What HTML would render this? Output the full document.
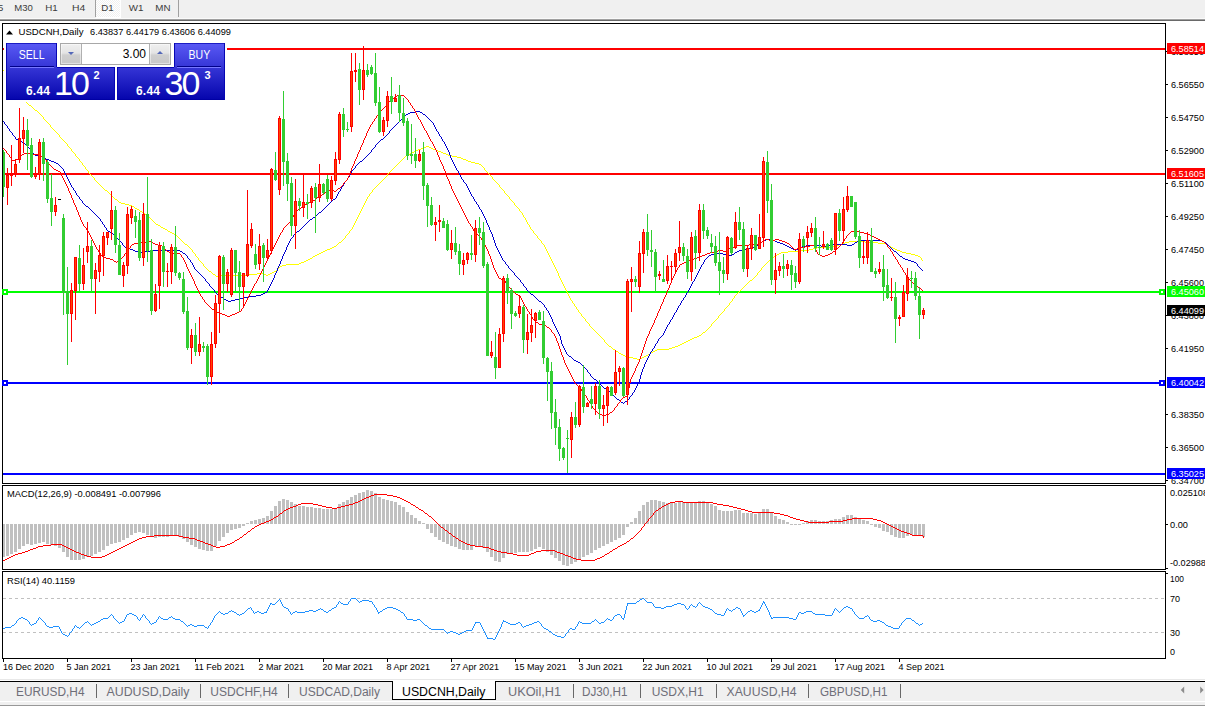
<!DOCTYPE html>
<html><head><meta charset="utf-8"><title>USDCNH,Daily</title>
<style>
html,body{margin:0;padding:0;background:#fff;}
body{width:1205px;height:706px;position:relative;overflow:hidden;font-family:"Liberation Sans",sans-serif;}
.abs{position:absolute;}
#tb{left:0;top:0;width:1205px;height:18px;background:#f0f0f0;}
#tb span{position:absolute;top:2.5px;font-size:9px;line-height:11px;color:#3c3c3c;}
.sep{position:absolute;top:0;width:1px;height:17px;background:#a0a0a0;}
#oc{left:6px;top:43px;width:219px;height:57px;background:#fff;box-shadow:0 0 0 2px #fff;}
.btn{position:absolute;top:0;width:51px;height:24px;background:linear-gradient(#5a5af5,#0404ac) 0 0/100% 57px;box-shadow:inset 1px 0 #0606b4,inset -1px 0 #0606b4,inset 0 1px #1c1cc4;color:#fff;font-size:12px;line-height:25px;text-align:center;}
.btn span{display:inline-block;transform:scaleX(.88);}
.pr{position:absolute;top:24px;height:33px;background:linear-gradient(#5a5af5,#0404ac) 0 -24px/100% 57px;box-shadow:inset 1px 0 #0606b4,inset -1px 0 #0606b4,inset 0 -1px #0000a4;color:#fff;}
.pr b{position:absolute;font-size:12px;line-height:12px;letter-spacing:.2px;}
.pr i{position:absolute;font-style:normal;font-size:34px;line-height:34px;letter-spacing:-2px;}
.pr u{position:absolute;text-decoration:none;font-weight:bold;font-size:11px;line-height:11px;}
.ul{position:absolute;top:23px;height:1px;background:#000088;box-shadow:0 1px 0 #7878ff;}
.tp{position:absolute;top:24px;height:1px;background:#0606b4;}
#sp{position:absolute;left:54px;top:0px;width:109px;height:20px;border:1px solid #a8a8a8;background:#fff;}
.sb{position:absolute;top:0;width:20px;height:20px;background:linear-gradient(#f0f0f0,#e4e4e4 45%,#cfcfcf 55%,#c8c8c8);box-shadow:inset 0 0 0 1px rgba(255,255,255,.45);}
.sb.dn:after{content:"";position:absolute;left:7px;top:8px;border:3px solid transparent;border-top:3px solid #5468b8;border-bottom:0;}
.sb.up:after{content:"";position:absolute;left:7px;top:7px;border:3px solid transparent;border-bottom:3px solid #5468b8;border-top:0;}
#tabs{left:0;top:682px;width:1205px;height:19px;background:#f0f0f0;}
#tabs span{position:absolute;top:3px;font-size:11.6px;line-height:15px;color:#6e6e78;white-space:nowrap;}
#tabs em{position:absolute;top:2px;width:1px;height:14px;background:#686868;}
</style></head><body>
<div id="tb" class="abs">
<div class="sep" style="left:95px"></div><div class="abs" style="left:96px;top:0;width:24px;height:17px;background:repeating-conic-gradient(#fff 0 25%,#f0f0f0 0 50%) 0 0/2px 2px;border-right:1px solid #fff;border-bottom:1px solid #fff"></div>
<div class="sep" style="left:178px"></div>
</div>
<div class="abs" style="left:0;top:18px;width:1205px;height:1px;background:#fafafa"></div>
<div class="abs" style="left:0;top:19px;width:1205px;height:1px;background:#a0a0a0"></div>
<div class="abs" style="left:0;top:20px;width:1205px;height:1px;background:#696969"></div>
<svg width="1205" height="706" viewBox="0 0 1205 706" style="position:absolute;left:0;top:0" shape-rendering="crispEdges" font-family="Liberation Sans, sans-serif" font-size="9.6px"><defs><clipPath id="cm"><rect x="3" y="24" width="1162" height="459"/></clipPath></defs><g clip-path="url(#cm)"><rect x="3" y="48" width="1162" height="2" fill="#ff0000"/><rect x="3" y="173" width="1162" height="2" fill="#ff0000"/><rect x="3" y="291" width="1162" height="2" fill="#00ff00"/><rect x="3" y="382" width="1162" height="2" fill="#0000ff"/><rect x="3" y="473" width="1162" height="2" fill="#0000ff"/><path d="M3 70h1v1h-1zM4 71h1v1h-1zM4 72h1v1h-1zM5 73h1v1h-1zM6 74h1v1h-1zM7 75h1v1h-1zM7 76h1v1h-1zM8 77h1v1h-1zM9 78h1v1h-1zM9 79h1v1h-1zM10 80h1v1h-1zM11 81h1v1h-1zM11 82h1v1h-1zM12 83h1v1h-1zM13 84h1v1h-1zM14 85h1v1h-1zM14 86h1v1h-1zM15 87h1v1h-1zM16 88h1v1h-1zM17 89h1v1h-1zM17 90h1v1h-1zM18 91h1v1h-1zM19 92h1v1h-1zM19 93h1v1h-1zM20 94h1v1h-1zM21 95h1v1h-1zM22 96h1v1h-1zM22 97h1v1h-1zM23 98h1v1h-1zM24 99h1v1h-1zM25 100h1v1h-1zM25 101h1v1h-1zM26 102h1v1h-1zM27 103h1v1h-1zM28 104h1v1h-1zM29 105h2v1h-2zM31 106h1v1h-1zM32 107h1v1h-1zM33 108h1v1h-1zM34 109h1v1h-1zM35 110h2v1h-2zM37 111h1v1h-1zM38 112h1v1h-1zM39 113h1v1h-1zM40 114h1v1h-1zM41 115h1v1h-1zM42 116h1v1h-1zM43 117h1v1h-1zM43 118h1v1h-1zM44 119h1v1h-1zM45 120h1v1h-1zM46 121h1v1h-1zM47 122h1v1h-1zM48 123h1v1h-1zM49 124h1v1h-1zM50 125h1v1h-1zM50 126h1v1h-1zM51 127h1v1h-1zM52 128h1v1h-1zM53 129h1v1h-1zM54 130h1v1h-1zM55 131h1v1h-1zM56 132h1v1h-1zM57 133h1v1h-1zM58 134h1v1h-1zM59 135h1v1h-1zM59 136h1v1h-1zM60 137h1v1h-1zM61 138h1v1h-1zM62 139h1v1h-1zM63 140h1v1h-1zM64 141h1v1h-1zM65 142h1v1h-1zM66 143h1v1h-1zM67 144h1v1h-1zM67 145h1v1h-1zM68 146h1v1h-1zM426 146h3v1h-3zM69 147h1v1h-1zM423 147h3v1h-3zM429 147h2v1h-2zM70 148h1v1h-1zM421 148h2v1h-2zM431 148h2v1h-2zM71 149h1v1h-1zM418 149h3v1h-3zM433 149h3v1h-3zM71 150h1v1h-1zM416 150h2v1h-2zM436 150h2v1h-2zM72 151h1v1h-1zM414 151h2v1h-2zM438 151h3v1h-3zM73 152h1v1h-1zM412 152h2v1h-2zM441 152h2v1h-2zM74 153h1v1h-1zM410 153h2v1h-2zM443 153h3v1h-3zM75 154h1v1h-1zM408 154h2v1h-2zM446 154h2v1h-2zM75 155h1v1h-1zM406 155h2v1h-2zM448 155h4v1h-4zM76 156h1v1h-1zM405 156h1v1h-1zM452 156h5v1h-5zM77 157h1v1h-1zM404 157h1v1h-1zM457 157h4v1h-4zM78 158h1v1h-1zM403 158h1v1h-1zM461 158h2v1h-2zM79 159h1v1h-1zM402 159h1v1h-1zM463 159h3v1h-3zM79 160h1v1h-1zM401 160h1v1h-1zM466 160h2v1h-2zM80 161h1v1h-1zM400 161h1v1h-1zM468 161h3v1h-3zM81 162h1v1h-1zM399 162h1v1h-1zM471 162h4v1h-4zM82 163h1v1h-1zM398 163h1v1h-1zM475 163h4v1h-4zM82 164h1v1h-1zM397 164h1v1h-1zM479 164h2v1h-2zM83 165h1v1h-1zM396 165h1v1h-1zM481 165h1v1h-1zM84 166h1v1h-1zM395 166h1v1h-1zM482 166h1v1h-1zM85 167h1v1h-1zM394 167h1v1h-1zM483 167h1v1h-1zM85 168h1v1h-1zM393 168h1v1h-1zM484 168h1v1h-1zM86 169h1v1h-1zM392 169h1v1h-1zM484 169h1v1h-1zM87 170h1v1h-1zM391 170h1v1h-1zM485 170h1v1h-1zM88 171h1v1h-1zM390 171h1v1h-1zM486 171h1v1h-1zM88 172h1v1h-1zM389 172h1v1h-1zM487 172h1v1h-1zM89 173h1v1h-1zM388 173h1v1h-1zM488 173h1v1h-1zM90 174h1v1h-1zM387 174h1v1h-1zM489 174h1v1h-1zM91 175h1v1h-1zM387 175h1v1h-1zM490 175h1v1h-1zM92 176h1v1h-1zM386 176h1v1h-1zM491 176h1v1h-1zM93 177h1v1h-1zM385 177h1v1h-1zM492 177h1v1h-1zM94 178h1v1h-1zM384 178h1v1h-1zM492 178h1v1h-1zM94 179h1v1h-1zM383 179h1v1h-1zM493 179h1v1h-1zM95 180h1v1h-1zM382 180h1v1h-1zM494 180h1v1h-1zM96 181h1v1h-1zM381 181h1v1h-1zM495 181h1v1h-1zM97 182h1v1h-1zM380 182h1v1h-1zM496 182h1v1h-1zM98 183h1v1h-1zM379 183h1v1h-1zM497 183h1v1h-1zM99 184h1v1h-1zM378 184h1v1h-1zM498 184h1v1h-1zM100 185h1v1h-1zM377 185h1v1h-1zM499 185h1v1h-1zM101 186h1v1h-1zM376 186h1v1h-1zM499 186h1v1h-1zM102 187h1v1h-1zM375 187h1v1h-1zM500 187h1v1h-1zM103 188h1v1h-1zM374 188h1v1h-1zM501 188h1v1h-1zM104 189h1v1h-1zM373 189h1v1h-1zM502 189h1v1h-1zM105 190h2v1h-2zM372 190h1v1h-1zM503 190h1v1h-1zM107 191h1v1h-1zM372 191h1v1h-1zM504 191h1v1h-1zM108 192h1v1h-1zM371 192h1v1h-1zM504 192h1v1h-1zM109 193h1v1h-1zM370 193h1v1h-1zM505 193h1v1h-1zM110 194h1v1h-1zM369 194h1v1h-1zM506 194h1v1h-1zM111 195h1v1h-1zM369 195h1v1h-1zM507 195h1v1h-1zM112 196h1v1h-1zM368 196h1v1h-1zM508 196h1v1h-1zM113 197h1v1h-1zM367 197h1v1h-1zM509 197h1v1h-1zM114 198h1v1h-1zM367 198h1v1h-1zM509 198h1v1h-1zM115 199h2v1h-2zM366 199h1v1h-1zM510 199h1v1h-1zM117 200h1v1h-1zM366 200h1v1h-1zM511 200h1v1h-1zM118 201h1v1h-1zM365 201h1v1h-1zM512 201h1v1h-1zM119 202h2v1h-2zM365 202h1v1h-1zM513 202h1v1h-1zM121 203h4v1h-4zM364 203h1v1h-1zM514 203h1v1h-1zM125 204h4v1h-4zM364 204h1v1h-1zM514 204h1v1h-1zM129 205h3v1h-3zM363 205h1v1h-1zM515 205h1v1h-1zM132 206h2v1h-2zM363 206h1v1h-1zM516 206h1v1h-1zM134 207h1v1h-1zM362 207h1v1h-1zM517 207h1v1h-1zM135 208h2v1h-2zM362 208h1v1h-1zM518 208h1v1h-1zM137 209h2v1h-2zM361 209h1v1h-1zM519 209h1v1h-1zM139 210h1v1h-1zM361 210h1v1h-1zM519 210h1v1h-1zM140 211h2v1h-2zM360 211h1v1h-1zM520 211h1v1h-1zM142 212h1v1h-1zM360 212h1v1h-1zM521 212h1v1h-1zM143 213h2v1h-2zM359 213h1v1h-1zM522 213h1v1h-1zM145 214h2v1h-2zM359 214h1v1h-1zM522 214h1v1h-1zM147 215h1v1h-1zM358 215h1v1h-1zM523 215h1v1h-1zM148 216h1v1h-1zM358 216h1v1h-1zM523 216h1v1h-1zM149 217h1v1h-1zM357 217h1v1h-1zM524 217h1v1h-1zM150 218h1v1h-1zM357 218h1v1h-1zM525 218h1v1h-1zM151 219h1v1h-1zM356 219h1v1h-1zM525 219h1v1h-1zM152 220h1v1h-1zM356 220h1v1h-1zM526 220h1v1h-1zM153 221h1v1h-1zM355 221h1v1h-1zM526 221h1v1h-1zM154 222h1v1h-1zM355 222h1v1h-1zM527 222h1v1h-1zM155 223h1v1h-1zM354 223h1v1h-1zM527 223h1v1h-1zM156 224h2v1h-2zM354 224h1v1h-1zM528 224h1v1h-1zM158 225h2v1h-2zM353 225h1v1h-1zM529 225h1v1h-1zM160 226h1v1h-1zM353 226h1v1h-1zM529 226h1v1h-1zM161 227h2v1h-2zM352 227h1v1h-1zM530 227h1v1h-1zM163 228h2v1h-2zM352 228h1v1h-1zM530 228h1v1h-1zM165 229h2v1h-2zM351 229h1v1h-1zM531 229h1v1h-1zM167 230h1v1h-1zM350 230h1v1h-1zM532 230h1v1h-1zM168 231h2v1h-2zM349 231h1v1h-1zM533 231h1v1h-1zM170 232h2v1h-2zM349 232h1v1h-1zM533 232h1v1h-1zM172 233h2v1h-2zM348 233h1v1h-1zM534 233h1v1h-1zM174 234h2v1h-2zM347 234h1v1h-1zM535 234h1v1h-1zM176 235h1v1h-1zM346 235h1v1h-1zM536 235h1v1h-1zM177 236h1v1h-1zM345 236h1v1h-1zM537 236h1v1h-1zM178 237h1v1h-1zM345 237h1v1h-1zM537 237h1v1h-1zM179 238h1v1h-1zM344 238h1v1h-1zM538 238h1v1h-1zM180 239h1v1h-1zM343 239h1v1h-1zM539 239h1v1h-1zM181 240h1v1h-1zM342 240h1v1h-1zM540 240h1v1h-1zM182 241h1v1h-1zM341 241h1v1h-1zM541 241h1v1h-1zM849 241h16v1h-16zM183 242h1v1h-1zM339 242h2v1h-2zM541 242h1v1h-1zM845 242h4v1h-4zM865 242h13v1h-13zM184 243h1v1h-1zM338 243h1v1h-1zM542 243h1v1h-1zM842 243h3v1h-3zM878 243h8v1h-8zM185 244h2v1h-2zM337 244h1v1h-1zM543 244h1v1h-1zM839 244h3v1h-3zM886 244h2v1h-2zM187 245h1v1h-1zM336 245h1v1h-1zM544 245h1v1h-1zM836 245h3v1h-3zM888 245h1v1h-1zM188 246h1v1h-1zM334 246h2v1h-2zM544 246h1v1h-1zM833 246h3v1h-3zM889 246h2v1h-2zM189 247h1v1h-1zM332 247h2v1h-2zM545 247h1v1h-1zM817 247h16v1h-16zM891 247h2v1h-2zM190 248h1v1h-1zM330 248h2v1h-2zM545 248h1v1h-1zM813 248h4v1h-4zM893 248h2v1h-2zM191 249h1v1h-1zM327 249h3v1h-3zM546 249h1v1h-1zM809 249h4v1h-4zM895 249h2v1h-2zM192 250h1v1h-1zM325 250h2v1h-2zM546 250h1v1h-1zM801 250h8v1h-8zM897 250h3v1h-3zM192 251h1v1h-1zM323 251h2v1h-2zM547 251h1v1h-1zM788 251h13v1h-13zM900 251h2v1h-2zM193 252h1v1h-1zM321 252h2v1h-2zM547 252h1v1h-1zM781 252h7v1h-7zM902 252h4v1h-4zM194 253h1v1h-1zM319 253h2v1h-2zM548 253h1v1h-1zM779 253h2v1h-2zM906 253h5v1h-5zM195 254h1v1h-1zM317 254h2v1h-2zM548 254h1v1h-1zM777 254h2v1h-2zM911 254h4v1h-4zM195 255h1v1h-1zM315 255h2v1h-2zM549 255h1v1h-1zM776 255h1v1h-1zM915 255h3v1h-3zM196 256h1v1h-1zM313 256h2v1h-2zM549 256h1v1h-1zM774 256h2v1h-2zM918 256h2v1h-2zM197 257h1v1h-1zM312 257h1v1h-1zM550 257h1v1h-1zM772 257h2v1h-2zM920 257h1v1h-1zM198 258h1v1h-1zM310 258h2v1h-2zM550 258h1v1h-1zM771 258h1v1h-1zM921 258h1v1h-1zM198 259h1v1h-1zM308 259h2v1h-2zM551 259h1v1h-1zM770 259h1v1h-1zM921 259h1v1h-1zM199 260h1v1h-1zM306 260h2v1h-2zM551 260h1v1h-1zM769 260h1v1h-1zM922 260h1v1h-1zM200 261h1v1h-1zM304 261h2v1h-2zM552 261h1v1h-1zM768 261h1v1h-1zM201 262h1v1h-1zM301 262h3v1h-3zM552 262h1v1h-1zM767 262h1v1h-1zM202 263h1v1h-1zM299 263h2v1h-2zM553 263h1v1h-1zM766 263h1v1h-1zM203 264h1v1h-1zM286 264h13v1h-13zM553 264h1v1h-1zM765 264h1v1h-1zM203 265h1v1h-1zM282 265h4v1h-4zM554 265h1v1h-1zM764 265h1v1h-1zM204 266h1v1h-1zM280 266h2v1h-2zM554 266h1v1h-1zM763 266h1v1h-1zM205 267h1v1h-1zM279 267h1v1h-1zM555 267h1v1h-1zM762 267h1v1h-1zM206 268h1v1h-1zM278 268h1v1h-1zM555 268h1v1h-1zM761 268h1v1h-1zM207 269h1v1h-1zM277 269h1v1h-1zM556 269h1v1h-1zM761 269h1v1h-1zM208 270h1v1h-1zM276 270h1v1h-1zM556 270h1v1h-1zM760 270h1v1h-1zM209 271h2v1h-2zM274 271h2v1h-2zM557 271h1v1h-1zM759 271h1v1h-1zM211 272h1v1h-1zM272 272h2v1h-2zM557 272h1v1h-1zM758 272h1v1h-1zM212 273h1v1h-1zM257 273h6v1h-6zM270 273h2v1h-2zM558 273h1v1h-1zM757 273h1v1h-1zM213 274h2v1h-2zM246 274h11v1h-11zM263 274h3v1h-3zM268 274h2v1h-2zM558 274h1v1h-1zM757 274h1v1h-1zM215 275h1v1h-1zM221 275h25v1h-25zM266 275h2v1h-2zM558 275h1v1h-1zM756 275h1v1h-1zM216 276h5v1h-5zM559 276h1v1h-1zM755 276h1v1h-1zM559 277h1v1h-1zM754 277h1v1h-1zM560 278h1v1h-1zM753 278h1v1h-1zM560 279h1v1h-1zM752 279h1v1h-1zM561 280h1v1h-1zM750 280h2v1h-2zM561 281h1v1h-1zM749 281h1v1h-1zM562 282h1v1h-1zM748 282h1v1h-1zM562 283h1v1h-1zM747 283h1v1h-1zM563 284h1v1h-1zM746 284h1v1h-1zM563 285h1v1h-1zM745 285h1v1h-1zM564 286h1v1h-1zM744 286h1v1h-1zM564 287h1v1h-1zM743 287h1v1h-1zM565 288h1v1h-1zM742 288h1v1h-1zM565 289h1v1h-1zM741 289h1v1h-1zM566 290h1v1h-1zM740 290h1v1h-1zM566 291h1v1h-1zM739 291h1v1h-1zM567 292h1v1h-1zM738 292h1v1h-1zM567 293h1v1h-1zM737 293h1v1h-1zM568 294h1v1h-1zM736 294h1v1h-1zM568 295h1v1h-1zM735 295h1v1h-1zM569 296h1v1h-1zM734 296h1v1h-1zM569 297h1v1h-1zM734 297h1v1h-1zM570 298h1v1h-1zM733 298h1v1h-1zM570 299h1v1h-1zM732 299h1v1h-1zM571 300h1v1h-1zM732 300h1v1h-1zM572 301h1v1h-1zM731 301h1v1h-1zM572 302h1v1h-1zM730 302h1v1h-1zM573 303h1v1h-1zM729 303h1v1h-1zM574 304h1v1h-1zM729 304h1v1h-1zM574 305h1v1h-1zM728 305h1v1h-1zM575 306h1v1h-1zM727 306h1v1h-1zM576 307h1v1h-1zM726 307h1v1h-1zM576 308h1v1h-1zM725 308h1v1h-1zM577 309h1v1h-1zM724 309h1v1h-1zM578 310h1v1h-1zM724 310h1v1h-1zM578 311h1v1h-1zM723 311h1v1h-1zM579 312h1v1h-1zM722 312h1v1h-1zM580 313h1v1h-1zM721 313h1v1h-1zM581 314h1v1h-1zM720 314h1v1h-1zM581 315h1v1h-1zM719 315h1v1h-1zM582 316h1v1h-1zM718 316h1v1h-1zM583 317h1v1h-1zM718 317h1v1h-1zM584 318h1v1h-1zM717 318h1v1h-1zM585 319h1v1h-1zM716 319h1v1h-1zM585 320h1v1h-1zM715 320h1v1h-1zM586 321h1v1h-1zM714 321h1v1h-1zM587 322h1v1h-1zM713 322h1v1h-1zM588 323h1v1h-1zM712 323h1v1h-1zM589 324h1v1h-1zM711 324h1v1h-1zM589 325h1v1h-1zM711 325h1v1h-1zM590 326h1v1h-1zM710 326h1v1h-1zM591 327h1v1h-1zM709 327h1v1h-1zM592 328h1v1h-1zM708 328h1v1h-1zM593 329h1v1h-1zM707 329h1v1h-1zM594 330h1v1h-1zM706 330h1v1h-1zM595 331h1v1h-1zM705 331h1v1h-1zM596 332h1v1h-1zM703 332h2v1h-2zM597 333h1v1h-1zM702 333h1v1h-1zM598 334h1v1h-1zM701 334h1v1h-1zM599 335h1v1h-1zM699 335h2v1h-2zM600 336h1v1h-1zM697 336h2v1h-2zM601 337h1v1h-1zM694 337h3v1h-3zM602 338h1v1h-1zM692 338h2v1h-2zM603 339h1v1h-1zM690 339h2v1h-2zM604 340h1v1h-1zM688 340h2v1h-2zM604 341h1v1h-1zM686 341h2v1h-2zM605 342h1v1h-1zM684 342h2v1h-2zM606 343h1v1h-1zM682 343h2v1h-2zM607 344h1v1h-1zM680 344h2v1h-2zM608 345h1v1h-1zM678 345h2v1h-2zM609 346h2v1h-2zM675 346h3v1h-3zM611 347h1v1h-1zM672 347h3v1h-3zM612 348h1v1h-1zM669 348h3v1h-3zM613 349h2v1h-2zM657 349h12v1h-12zM615 350h1v1h-1zM655 350h2v1h-2zM616 351h2v1h-2zM653 351h2v1h-2zM618 352h1v1h-1zM651 352h2v1h-2zM619 353h2v1h-2zM650 353h1v1h-1zM621 354h2v1h-2zM648 354h2v1h-2zM623 355h2v1h-2zM646 355h2v1h-2zM625 356h4v1h-4zM644 356h2v1h-2zM629 357h4v1h-4zM642 357h2v1h-2zM633 358h4v1h-4zM640 358h2v1h-2zM637 359h3v1h-3z" fill="#ffff00"/><path d="M415 111h5v1h-5zM410 112h5v1h-5zM420 112h2v1h-2zM408 113h2v1h-2zM422 113h1v1h-1zM406 114h2v1h-2zM423 114h2v1h-2zM405 115h1v1h-1zM425 115h1v1h-1zM404 116h1v1h-1zM426 116h1v1h-1zM403 117h1v1h-1zM427 117h1v1h-1zM402 118h1v1h-1zM428 118h1v1h-1zM401 119h1v1h-1zM429 119h1v1h-1zM400 120h1v1h-1zM430 120h1v1h-1zM3 121h1v1h-1zM399 121h1v1h-1zM431 121h1v1h-1zM4 122h1v1h-1zM398 122h1v1h-1zM432 122h1v1h-1zM4 123h1v1h-1zM397 123h1v1h-1zM433 123h1v1h-1zM5 124h1v1h-1zM396 124h1v1h-1zM433 124h1v1h-1zM6 125h1v1h-1zM395 125h1v1h-1zM434 125h1v1h-1zM7 126h1v1h-1zM394 126h1v1h-1zM434 126h1v1h-1zM7 127h1v1h-1zM393 127h1v1h-1zM435 127h1v1h-1zM8 128h1v1h-1zM392 128h1v1h-1zM435 128h1v1h-1zM9 129h1v1h-1zM391 129h1v1h-1zM436 129h1v1h-1zM9 130h1v1h-1zM390 130h1v1h-1zM436 130h1v1h-1zM10 131h1v1h-1zM389 131h1v1h-1zM437 131h1v1h-1zM11 132h1v1h-1zM389 132h1v1h-1zM438 132h1v1h-1zM12 133h1v1h-1zM388 133h1v1h-1zM438 133h1v1h-1zM12 134h1v1h-1zM387 134h1v1h-1zM439 134h1v1h-1zM13 135h1v1h-1zM386 135h1v1h-1zM439 135h1v1h-1zM14 136h1v1h-1zM385 136h1v1h-1zM440 136h1v1h-1zM15 137h1v1h-1zM384 137h1v1h-1zM441 137h1v1h-1zM15 138h1v1h-1zM383 138h1v1h-1zM441 138h1v1h-1zM16 139h2v1h-2zM381 139h2v1h-2zM442 139h1v1h-1zM18 140h2v1h-2zM380 140h1v1h-1zM442 140h1v1h-1zM20 141h2v1h-2zM379 141h1v1h-1zM443 141h1v1h-1zM22 142h2v1h-2zM378 142h1v1h-1zM444 142h1v1h-1zM24 143h1v1h-1zM377 143h1v1h-1zM444 143h1v1h-1zM25 144h1v1h-1zM376 144h1v1h-1zM445 144h1v1h-1zM26 145h1v1h-1zM375 145h1v1h-1zM445 145h1v1h-1zM27 146h1v1h-1zM375 146h1v1h-1zM446 146h1v1h-1zM28 147h1v1h-1zM374 147h1v1h-1zM446 147h1v1h-1zM29 148h1v1h-1zM373 148h1v1h-1zM447 148h1v1h-1zM30 149h1v1h-1zM372 149h1v1h-1zM447 149h1v1h-1zM31 150h1v1h-1zM371 150h1v1h-1zM448 150h1v1h-1zM32 151h1v1h-1zM371 151h1v1h-1zM448 151h1v1h-1zM32 152h1v1h-1zM370 152h1v1h-1zM449 152h1v1h-1zM33 153h1v1h-1zM369 153h1v1h-1zM449 153h1v1h-1zM34 154h1v1h-1zM368 154h1v1h-1zM449 154h1v1h-1zM35 155h3v1h-3zM367 155h1v1h-1zM450 155h1v1h-1zM38 156h4v1h-4zM366 156h1v1h-1zM450 156h1v1h-1zM42 157h2v1h-2zM365 157h1v1h-1zM450 157h1v1h-1zM44 158h2v1h-2zM364 158h1v1h-1zM451 158h1v1h-1zM46 159h3v1h-3zM363 159h1v1h-1zM451 159h1v1h-1zM49 160h2v1h-2zM362 160h1v1h-1zM452 160h1v1h-1zM51 161h3v1h-3zM360 161h2v1h-2zM452 161h1v1h-1zM54 162h2v1h-2zM359 162h1v1h-1zM453 162h1v1h-1zM56 163h2v1h-2zM358 163h1v1h-1zM453 163h1v1h-1zM58 164h1v1h-1zM357 164h1v1h-1zM454 164h1v1h-1zM59 165h1v1h-1zM356 165h1v1h-1zM454 165h1v1h-1zM60 166h1v1h-1zM355 166h1v1h-1zM455 166h1v1h-1zM61 167h1v1h-1zM355 167h1v1h-1zM455 167h1v1h-1zM62 168h1v1h-1zM354 168h1v1h-1zM456 168h1v1h-1zM63 169h1v1h-1zM353 169h1v1h-1zM456 169h1v1h-1zM63 170h1v1h-1zM352 170h1v1h-1zM457 170h1v1h-1zM64 171h1v1h-1zM351 171h1v1h-1zM458 171h1v1h-1zM64 172h1v1h-1zM351 172h1v1h-1zM458 172h1v1h-1zM65 173h1v1h-1zM350 173h1v1h-1zM459 173h1v1h-1zM65 174h1v1h-1zM350 174h1v1h-1zM459 174h1v1h-1zM66 175h1v1h-1zM349 175h1v1h-1zM460 175h1v1h-1zM66 176h1v1h-1zM349 176h1v1h-1zM460 176h1v1h-1zM67 177h1v1h-1zM348 177h1v1h-1zM461 177h1v1h-1zM67 178h1v1h-1zM347 178h1v1h-1zM461 178h1v1h-1zM68 179h1v1h-1zM347 179h1v1h-1zM462 179h1v1h-1zM68 180h1v1h-1zM346 180h1v1h-1zM463 180h1v1h-1zM69 181h1v1h-1zM345 181h1v1h-1zM463 181h1v1h-1zM69 182h1v1h-1zM344 182h1v1h-1zM464 182h1v1h-1zM70 183h1v1h-1zM344 183h1v1h-1zM465 183h1v1h-1zM70 184h1v1h-1zM343 184h1v1h-1zM466 184h1v1h-1zM71 185h1v1h-1zM343 185h1v1h-1zM466 185h1v1h-1zM71 186h1v1h-1zM342 186h1v1h-1zM467 186h1v1h-1zM72 187h1v1h-1zM341 187h1v1h-1zM467 187h1v1h-1zM73 188h1v1h-1zM341 188h1v1h-1zM468 188h1v1h-1zM73 189h1v1h-1zM340 189h1v1h-1zM468 189h1v1h-1zM74 190h1v1h-1zM340 190h1v1h-1zM469 190h1v1h-1zM75 191h1v1h-1zM339 191h1v1h-1zM469 191h1v1h-1zM75 192h1v1h-1zM338 192h1v1h-1zM470 192h1v1h-1zM76 193h1v1h-1zM338 193h1v1h-1zM470 193h1v1h-1zM76 194h1v1h-1zM337 194h1v1h-1zM471 194h1v1h-1zM77 195h1v1h-1zM337 195h1v1h-1zM471 195h1v1h-1zM78 196h1v1h-1zM336 196h1v1h-1zM472 196h1v1h-1zM79 197h1v1h-1zM336 197h1v1h-1zM473 197h1v1h-1zM79 198h1v1h-1zM335 198h1v1h-1zM473 198h1v1h-1zM80 199h1v1h-1zM333 199h2v1h-2zM474 199h1v1h-1zM81 200h1v1h-1zM332 200h1v1h-1zM474 200h1v1h-1zM82 201h1v1h-1zM331 201h1v1h-1zM475 201h1v1h-1zM82 202h1v1h-1zM330 202h1v1h-1zM476 202h1v1h-1zM83 203h1v1h-1zM329 203h1v1h-1zM476 203h1v1h-1zM84 204h1v1h-1zM328 204h1v1h-1zM477 204h1v1h-1zM85 205h1v1h-1zM327 205h1v1h-1zM478 205h1v1h-1zM86 206h2v1h-2zM326 206h1v1h-1zM478 206h1v1h-1zM88 207h1v1h-1zM325 207h1v1h-1zM479 207h1v1h-1zM89 208h1v1h-1zM324 208h1v1h-1zM479 208h1v1h-1zM90 209h1v1h-1zM323 209h1v1h-1zM480 209h1v1h-1zM91 210h1v1h-1zM322 210h1v1h-1zM481 210h1v1h-1zM92 211h1v1h-1zM321 211h1v1h-1zM481 211h1v1h-1zM93 212h1v1h-1zM319 212h2v1h-2zM482 212h1v1h-1zM94 213h1v1h-1zM318 213h1v1h-1zM482 213h1v1h-1zM95 214h1v1h-1zM317 214h1v1h-1zM483 214h1v1h-1zM96 215h1v1h-1zM316 215h1v1h-1zM483 215h1v1h-1zM97 216h1v1h-1zM315 216h1v1h-1zM484 216h1v1h-1zM98 217h1v1h-1zM313 217h2v1h-2zM484 217h1v1h-1zM99 218h1v1h-1zM312 218h1v1h-1zM485 218h1v1h-1zM100 219h1v1h-1zM310 219h2v1h-2zM485 219h1v1h-1zM100 220h1v1h-1zM309 220h1v1h-1zM486 220h1v1h-1zM101 221h1v1h-1zM308 221h1v1h-1zM486 221h1v1h-1zM102 222h1v1h-1zM307 222h1v1h-1zM486 222h1v1h-1zM102 223h1v1h-1zM306 223h1v1h-1zM487 223h1v1h-1zM103 224h1v1h-1zM305 224h1v1h-1zM487 224h1v1h-1zM104 225h1v1h-1zM304 225h1v1h-1zM488 225h1v1h-1zM104 226h1v1h-1zM303 226h1v1h-1zM488 226h1v1h-1zM105 227h1v1h-1zM302 227h1v1h-1zM489 227h1v1h-1zM106 228h1v1h-1zM301 228h1v1h-1zM489 228h1v1h-1zM106 229h1v1h-1zM300 229h1v1h-1zM489 229h1v1h-1zM107 230h1v1h-1zM299 230h1v1h-1zM490 230h1v1h-1zM108 231h2v1h-2zM297 231h2v1h-2zM490 231h1v1h-1zM110 232h1v1h-1zM296 232h1v1h-1zM491 232h1v1h-1zM111 233h2v1h-2zM295 233h1v1h-1zM491 233h1v1h-1zM113 234h1v1h-1zM294 234h1v1h-1zM492 234h1v1h-1zM114 235h1v1h-1zM293 235h1v1h-1zM492 235h1v1h-1zM115 236h1v1h-1zM293 236h1v1h-1zM492 236h1v1h-1zM116 237h1v1h-1zM292 237h1v1h-1zM493 237h1v1h-1zM117 238h1v1h-1zM291 238h1v1h-1zM493 238h1v1h-1zM118 239h1v1h-1zM290 239h1v1h-1zM493 239h1v1h-1zM766 239h4v1h-4zM119 240h1v1h-1zM290 240h1v1h-1zM494 240h1v1h-1zM764 240h2v1h-2zM770 240h5v1h-5zM861 240h21v1h-21zM120 241h1v1h-1zM289 241h1v1h-1zM494 241h1v1h-1zM762 241h2v1h-2zM775 241h2v1h-2zM857 241h4v1h-4zM882 241h2v1h-2zM121 242h1v1h-1zM289 242h1v1h-1zM494 242h1v1h-1zM760 242h2v1h-2zM777 242h3v1h-3zM855 242h2v1h-2zM884 242h2v1h-2zM122 243h1v1h-1zM288 243h1v1h-1zM495 243h1v1h-1zM759 243h1v1h-1zM780 243h3v1h-3zM854 243h1v1h-1zM886 243h1v1h-1zM122 244h1v1h-1zM288 244h1v1h-1zM495 244h1v1h-1zM758 244h1v1h-1zM783 244h2v1h-2zM833 244h14v1h-14zM852 244h2v1h-2zM887 244h1v1h-1zM123 245h1v1h-1zM287 245h1v1h-1zM495 245h1v1h-1zM756 245h2v1h-2zM785 245h2v1h-2zM806 245h15v1h-15zM828 245h5v1h-5zM847 245h5v1h-5zM888 245h1v1h-1zM124 246h1v1h-1zM287 246h1v1h-1zM496 246h1v1h-1zM754 246h2v1h-2zM787 246h2v1h-2zM802 246h4v1h-4zM821 246h7v1h-7zM889 246h1v1h-1zM125 247h2v1h-2zM286 247h1v1h-1zM496 247h1v1h-1zM750 247h4v1h-4zM789 247h2v1h-2zM800 247h2v1h-2zM890 247h1v1h-1zM127 248h3v1h-3zM286 248h1v1h-1zM497 248h1v1h-1zM747 248h3v1h-3zM791 248h2v1h-2zM798 248h2v1h-2zM891 248h1v1h-1zM130 249h3v1h-3zM286 249h1v1h-1zM497 249h1v1h-1zM743 249h4v1h-4zM793 249h2v1h-2zM796 249h2v1h-2zM892 249h1v1h-1zM133 250h2v1h-2zM151 250h29v1h-29zM285 250h1v1h-1zM498 250h1v1h-1zM739 250h4v1h-4zM795 250h1v1h-1zM893 250h1v1h-1zM135 251h3v1h-3zM143 251h8v1h-8zM180 251h2v1h-2zM285 251h1v1h-1zM498 251h1v1h-1zM737 251h2v1h-2zM894 251h2v1h-2zM138 252h5v1h-5zM182 252h1v1h-1zM284 252h1v1h-1zM499 252h1v1h-1zM735 252h2v1h-2zM896 252h1v1h-1zM183 253h2v1h-2zM284 253h1v1h-1zM499 253h1v1h-1zM714 253h9v1h-9zM734 253h1v1h-1zM897 253h1v1h-1zM185 254h1v1h-1zM283 254h1v1h-1zM500 254h1v1h-1zM711 254h3v1h-3zM723 254h6v1h-6zM732 254h2v1h-2zM898 254h1v1h-1zM186 255h1v1h-1zM283 255h1v1h-1zM500 255h1v1h-1zM709 255h2v1h-2zM729 255h3v1h-3zM899 255h1v1h-1zM187 256h1v1h-1zM282 256h1v1h-1zM501 256h1v1h-1zM708 256h1v1h-1zM900 256h2v1h-2zM187 257h1v1h-1zM282 257h1v1h-1zM501 257h1v1h-1zM707 257h1v1h-1zM902 257h1v1h-1zM188 258h1v1h-1zM282 258h1v1h-1zM502 258h1v1h-1zM706 258h1v1h-1zM903 258h2v1h-2zM189 259h1v1h-1zM281 259h1v1h-1zM502 259h1v1h-1zM705 259h1v1h-1zM905 259h3v1h-3zM190 260h1v1h-1zM281 260h1v1h-1zM503 260h1v1h-1zM704 260h1v1h-1zM908 260h3v1h-3zM190 261h1v1h-1zM280 261h1v1h-1zM504 261h1v1h-1zM704 261h1v1h-1zM911 261h3v1h-3zM191 262h1v1h-1zM280 262h1v1h-1zM505 262h1v1h-1zM703 262h1v1h-1zM914 262h2v1h-2zM192 263h1v1h-1zM280 263h1v1h-1zM505 263h1v1h-1zM703 263h1v1h-1zM916 263h1v1h-1zM192 264h1v1h-1zM279 264h1v1h-1zM506 264h1v1h-1zM702 264h1v1h-1zM917 264h1v1h-1zM193 265h1v1h-1zM279 265h1v1h-1zM507 265h1v1h-1zM701 265h1v1h-1zM917 265h1v1h-1zM193 266h1v1h-1zM278 266h1v1h-1zM508 266h1v1h-1zM701 266h1v1h-1zM918 266h1v1h-1zM194 267h1v1h-1zM278 267h1v1h-1zM508 267h1v1h-1zM700 267h1v1h-1zM919 267h1v1h-1zM194 268h1v1h-1zM277 268h1v1h-1zM509 268h1v1h-1zM700 268h1v1h-1zM920 268h1v1h-1zM195 269h1v1h-1zM277 269h1v1h-1zM510 269h1v1h-1zM699 269h1v1h-1zM921 269h1v1h-1zM196 270h1v1h-1zM277 270h1v1h-1zM511 270h1v1h-1zM699 270h1v1h-1zM922 270h1v1h-1zM197 271h1v1h-1zM276 271h1v1h-1zM512 271h1v1h-1zM698 271h1v1h-1zM198 272h1v1h-1zM276 272h1v1h-1zM513 272h1v1h-1zM698 272h1v1h-1zM199 273h1v1h-1zM275 273h1v1h-1zM514 273h1v1h-1zM697 273h1v1h-1zM200 274h1v1h-1zM275 274h1v1h-1zM514 274h1v1h-1zM697 274h1v1h-1zM201 275h1v1h-1zM274 275h1v1h-1zM515 275h1v1h-1zM696 275h1v1h-1zM202 276h1v1h-1zM274 276h1v1h-1zM516 276h1v1h-1zM696 276h1v1h-1zM203 277h1v1h-1zM274 277h1v1h-1zM517 277h1v1h-1zM695 277h1v1h-1zM204 278h1v1h-1zM273 278h1v1h-1zM518 278h1v1h-1zM695 278h1v1h-1zM205 279h1v1h-1zM273 279h1v1h-1zM519 279h1v1h-1zM694 279h1v1h-1zM205 280h1v1h-1zM272 280h1v1h-1zM520 280h1v1h-1zM694 280h1v1h-1zM206 281h1v1h-1zM272 281h1v1h-1zM520 281h1v1h-1zM693 281h1v1h-1zM207 282h1v1h-1zM271 282h1v1h-1zM521 282h1v1h-1zM692 282h1v1h-1zM208 283h1v1h-1zM271 283h1v1h-1zM522 283h1v1h-1zM692 283h1v1h-1zM209 284h1v1h-1zM270 284h1v1h-1zM523 284h1v1h-1zM691 284h1v1h-1zM209 285h1v1h-1zM270 285h1v1h-1zM523 285h1v1h-1zM691 285h1v1h-1zM210 286h1v1h-1zM269 286h1v1h-1zM524 286h1v1h-1zM690 286h1v1h-1zM211 287h1v1h-1zM269 287h1v1h-1zM525 287h1v1h-1zM690 287h1v1h-1zM212 288h1v1h-1zM268 288h1v1h-1zM526 288h1v1h-1zM689 288h1v1h-1zM213 289h1v1h-1zM268 289h1v1h-1zM526 289h1v1h-1zM689 289h1v1h-1zM214 290h1v1h-1zM267 290h1v1h-1zM527 290h1v1h-1zM688 290h1v1h-1zM214 291h1v1h-1zM267 291h1v1h-1zM528 291h1v1h-1zM688 291h1v1h-1zM215 292h1v1h-1zM265 292h2v1h-2zM529 292h1v1h-1zM687 292h1v1h-1zM216 293h1v1h-1zM263 293h2v1h-2zM530 293h1v1h-1zM686 293h1v1h-1zM217 294h1v1h-1zM261 294h2v1h-2zM531 294h2v1h-2zM686 294h1v1h-1zM218 295h2v1h-2zM256 295h5v1h-5zM533 295h1v1h-1zM685 295h1v1h-1zM220 296h1v1h-1zM249 296h7v1h-7zM534 296h1v1h-1zM685 296h1v1h-1zM221 297h2v1h-2zM243 297h6v1h-6zM535 297h1v1h-1zM684 297h1v1h-1zM223 298h1v1h-1zM239 298h4v1h-4zM536 298h1v1h-1zM683 298h1v1h-1zM224 299h2v1h-2zM235 299h4v1h-4zM537 299h1v1h-1zM683 299h1v1h-1zM226 300h2v1h-2zM231 300h4v1h-4zM538 300h1v1h-1zM682 300h1v1h-1zM228 301h3v1h-3zM539 301h2v1h-2zM681 301h1v1h-1zM541 302h1v1h-1zM681 302h1v1h-1zM542 303h1v1h-1zM680 303h1v1h-1zM543 304h1v1h-1zM680 304h1v1h-1zM544 305h1v1h-1zM679 305h1v1h-1zM544 306h1v1h-1zM678 306h1v1h-1zM545 307h1v1h-1zM678 307h1v1h-1zM546 308h1v1h-1zM677 308h1v1h-1zM546 309h1v1h-1zM677 309h1v1h-1zM547 310h1v1h-1zM676 310h1v1h-1zM548 311h1v1h-1zM676 311h1v1h-1zM548 312h1v1h-1zM675 312h1v1h-1zM549 313h1v1h-1zM674 313h1v1h-1zM549 314h1v1h-1zM674 314h1v1h-1zM550 315h1v1h-1zM673 315h1v1h-1zM550 316h1v1h-1zM673 316h1v1h-1zM551 317h1v1h-1zM672 317h1v1h-1zM551 318h1v1h-1zM672 318h1v1h-1zM552 319h1v1h-1zM671 319h1v1h-1zM552 320h1v1h-1zM670 320h1v1h-1zM552 321h1v1h-1zM670 321h1v1h-1zM553 322h1v1h-1zM669 322h1v1h-1zM553 323h1v1h-1zM669 323h1v1h-1zM554 324h1v1h-1zM668 324h1v1h-1zM554 325h1v1h-1zM667 325h1v1h-1zM555 326h1v1h-1zM667 326h1v1h-1zM555 327h1v1h-1zM666 327h1v1h-1zM556 328h1v1h-1zM666 328h1v1h-1zM556 329h1v1h-1zM665 329h1v1h-1zM557 330h1v1h-1zM665 330h1v1h-1zM557 331h1v1h-1zM664 331h1v1h-1zM558 332h1v1h-1zM664 332h1v1h-1zM558 333h1v1h-1zM663 333h1v1h-1zM559 334h1v1h-1zM663 334h1v1h-1zM559 335h1v1h-1zM662 335h1v1h-1zM560 336h1v1h-1zM661 336h1v1h-1zM560 337h1v1h-1zM660 337h1v1h-1zM560 338h1v1h-1zM659 338h1v1h-1zM560 339h1v1h-1zM658 339h1v1h-1zM561 340h1v1h-1zM658 340h1v1h-1zM561 341h1v1h-1zM657 341h1v1h-1zM561 342h1v1h-1zM657 342h1v1h-1zM561 343h1v1h-1zM656 343h1v1h-1zM562 344h1v1h-1zM655 344h1v1h-1zM562 345h1v1h-1zM655 345h1v1h-1zM563 346h1v1h-1zM654 346h1v1h-1zM563 347h1v1h-1zM654 347h1v1h-1zM564 348h1v1h-1zM653 348h1v1h-1zM564 349h1v1h-1zM652 349h1v1h-1zM565 350h1v1h-1zM652 350h1v1h-1zM565 351h1v1h-1zM651 351h1v1h-1zM566 352h1v1h-1zM650 352h1v1h-1zM566 353h1v1h-1zM650 353h1v1h-1zM567 354h1v1h-1zM649 354h1v1h-1zM568 355h1v1h-1zM649 355h1v1h-1zM569 356h2v1h-2zM648 356h1v1h-1zM571 357h1v1h-1zM648 357h1v1h-1zM572 358h1v1h-1zM647 358h1v1h-1zM573 359h1v1h-1zM647 359h1v1h-1zM574 360h2v1h-2zM646 360h1v1h-1zM576 361h2v1h-2zM646 361h1v1h-1zM578 362h2v1h-2zM645 362h1v1h-1zM580 363h1v1h-1zM645 363h1v1h-1zM581 364h1v1h-1zM644 364h1v1h-1zM582 365h1v1h-1zM644 365h1v1h-1zM583 366h1v1h-1zM644 366h1v1h-1zM584 367h1v1h-1zM643 367h1v1h-1zM585 368h1v1h-1zM643 368h1v1h-1zM586 369h1v1h-1zM642 369h1v1h-1zM587 370h1v1h-1zM642 370h1v1h-1zM587 371h1v1h-1zM642 371h1v1h-1zM588 372h1v1h-1zM641 372h1v1h-1zM589 373h1v1h-1zM641 373h1v1h-1zM590 374h1v1h-1zM641 374h1v1h-1zM590 375h1v1h-1zM640 375h1v1h-1zM591 376h1v1h-1zM640 376h1v1h-1zM592 377h1v1h-1zM640 377h1v1h-1zM593 378h1v1h-1zM640 378h1v1h-1zM594 379h2v1h-2zM639 379h1v1h-1zM596 380h1v1h-1zM639 380h1v1h-1zM597 381h1v1h-1zM639 381h1v1h-1zM598 382h1v1h-1zM638 382h1v1h-1zM599 383h1v1h-1zM638 383h1v1h-1zM600 384h1v1h-1zM637 384h1v1h-1zM601 385h1v1h-1zM637 385h1v1h-1zM602 386h1v1h-1zM636 386h1v1h-1zM603 387h1v1h-1zM636 387h1v1h-1zM604 388h2v1h-2zM635 388h1v1h-1zM606 389h1v1h-1zM635 389h1v1h-1zM607 390h2v1h-2zM634 390h1v1h-1zM609 391h1v1h-1zM634 391h1v1h-1zM610 392h1v1h-1zM633 392h1v1h-1zM611 393h1v1h-1zM632 393h1v1h-1zM612 394h1v1h-1zM632 394h1v1h-1zM613 395h1v1h-1zM631 395h1v1h-1zM614 396h1v1h-1zM630 396h1v1h-1zM615 397h1v1h-1zM629 397h1v1h-1zM616 398h1v1h-1zM629 398h1v1h-1zM617 399h2v1h-2zM628 399h1v1h-1zM619 400h1v1h-1zM627 400h1v1h-1zM620 401h1v1h-1zM625 401h2v1h-2zM621 402h2v1h-2zM624 402h1v1h-1zM623 403h1v1h-1z" fill="#0000cd"/><path d="M397 95h7v1h-7zM395 96h2v1h-2zM404 96h1v1h-1zM394 97h1v1h-1zM405 97h1v1h-1zM392 98h2v1h-2zM406 98h1v1h-1zM391 99h1v1h-1zM407 99h1v1h-1zM390 100h1v1h-1zM408 100h1v1h-1zM389 101h1v1h-1zM408 101h1v1h-1zM388 102h1v1h-1zM409 102h1v1h-1zM387 103h1v1h-1zM410 103h1v1h-1zM386 104h1v1h-1zM410 104h1v1h-1zM386 105h1v1h-1zM411 105h1v1h-1zM385 106h1v1h-1zM412 106h1v1h-1zM384 107h1v1h-1zM412 107h1v1h-1zM383 108h1v1h-1zM413 108h1v1h-1zM382 109h1v1h-1zM414 109h1v1h-1zM381 110h1v1h-1zM414 110h1v1h-1zM380 111h1v1h-1zM415 111h1v1h-1zM380 112h1v1h-1zM415 112h1v1h-1zM379 113h1v1h-1zM416 113h1v1h-1zM378 114h1v1h-1zM416 114h1v1h-1zM377 115h1v1h-1zM417 115h1v1h-1zM376 116h1v1h-1zM417 116h1v1h-1zM376 117h1v1h-1zM418 117h1v1h-1zM375 118h1v1h-1zM418 118h1v1h-1zM374 119h1v1h-1zM419 119h1v1h-1zM374 120h1v1h-1zM420 120h1v1h-1zM373 121h1v1h-1zM420 121h1v1h-1zM372 122h1v1h-1zM421 122h1v1h-1zM372 123h1v1h-1zM421 123h1v1h-1zM371 124h1v1h-1zM422 124h1v1h-1zM370 125h1v1h-1zM422 125h1v1h-1zM370 126h1v1h-1zM423 126h1v1h-1zM369 127h1v1h-1zM423 127h1v1h-1zM369 128h1v1h-1zM424 128h1v1h-1zM368 129h1v1h-1zM424 129h1v1h-1zM368 130h1v1h-1zM425 130h1v1h-1zM367 131h1v1h-1zM426 131h1v1h-1zM367 132h1v1h-1zM426 132h1v1h-1zM366 133h1v1h-1zM427 133h1v1h-1zM366 134h1v1h-1zM427 134h1v1h-1zM366 135h1v1h-1zM428 135h1v1h-1zM365 136h1v1h-1zM428 136h1v1h-1zM365 137h1v1h-1zM429 137h1v1h-1zM364 138h1v1h-1zM429 138h1v1h-1zM364 139h1v1h-1zM430 139h1v1h-1zM363 140h1v1h-1zM430 140h1v1h-1zM363 141h1v1h-1zM431 141h1v1h-1zM363 142h1v1h-1zM432 142h1v1h-1zM362 143h1v1h-1zM432 143h1v1h-1zM362 144h1v1h-1zM433 144h1v1h-1zM361 145h1v1h-1zM433 145h1v1h-1zM361 146h1v1h-1zM434 146h1v1h-1zM360 147h1v1h-1zM434 147h1v1h-1zM3 148h1v1h-1zM360 148h1v1h-1zM435 148h1v1h-1zM4 149h1v1h-1zM360 149h1v1h-1zM435 149h1v1h-1zM5 150h1v1h-1zM359 150h1v1h-1zM436 150h1v1h-1zM6 151h1v1h-1zM359 151h1v1h-1zM436 151h1v1h-1zM6 152h1v1h-1zM358 152h1v1h-1zM437 152h1v1h-1zM7 153h1v1h-1zM24 153h9v1h-9zM358 153h1v1h-1zM437 153h1v1h-1zM8 154h1v1h-1zM22 154h2v1h-2zM33 154h7v1h-7zM357 154h1v1h-1zM437 154h1v1h-1zM9 155h1v1h-1zM21 155h1v1h-1zM40 155h1v1h-1zM357 155h1v1h-1zM438 155h1v1h-1zM9 156h1v1h-1zM20 156h1v1h-1zM41 156h2v1h-2zM357 156h1v1h-1zM438 156h1v1h-1zM10 157h1v1h-1zM19 157h1v1h-1zM43 157h1v1h-1zM356 157h1v1h-1zM439 157h1v1h-1zM11 158h1v1h-1zM18 158h1v1h-1zM44 158h1v1h-1zM356 158h1v1h-1zM439 158h1v1h-1zM11 159h1v1h-1zM15 159h3v1h-3zM45 159h1v1h-1zM355 159h1v1h-1zM439 159h1v1h-1zM12 160h3v1h-3zM46 160h1v1h-1zM355 160h1v1h-1zM440 160h1v1h-1zM46 161h1v1h-1zM354 161h1v1h-1zM440 161h1v1h-1zM47 162h1v1h-1zM354 162h1v1h-1zM441 162h1v1h-1zM48 163h1v1h-1zM354 163h1v1h-1zM441 163h1v1h-1zM49 164h1v1h-1zM353 164h1v1h-1zM442 164h1v1h-1zM50 165h1v1h-1zM353 165h1v1h-1zM442 165h1v1h-1zM51 166h1v1h-1zM352 166h1v1h-1zM443 166h1v1h-1zM52 167h1v1h-1zM352 167h1v1h-1zM443 167h1v1h-1zM53 168h1v1h-1zM351 168h1v1h-1zM443 168h1v1h-1zM54 169h2v1h-2zM351 169h1v1h-1zM444 169h1v1h-1zM56 170h2v1h-2zM351 170h1v1h-1zM444 170h1v1h-1zM58 171h2v1h-2zM350 171h1v1h-1zM445 171h1v1h-1zM60 172h1v1h-1zM350 172h1v1h-1zM445 172h1v1h-1zM60 173h1v1h-1zM350 173h1v1h-1zM445 173h1v1h-1zM61 174h1v1h-1zM349 174h1v1h-1zM446 174h1v1h-1zM61 175h1v1h-1zM349 175h1v1h-1zM446 175h1v1h-1zM62 176h1v1h-1zM348 176h1v1h-1zM446 176h1v1h-1zM62 177h1v1h-1zM348 177h1v1h-1zM447 177h1v1h-1zM63 178h1v1h-1zM347 178h1v1h-1zM447 178h1v1h-1zM63 179h1v1h-1zM347 179h1v1h-1zM448 179h1v1h-1zM64 180h1v1h-1zM346 180h1v1h-1zM448 180h1v1h-1zM64 181h1v1h-1zM345 181h1v1h-1zM449 181h1v1h-1zM65 182h1v1h-1zM344 182h1v1h-1zM449 182h1v1h-1zM65 183h1v1h-1zM343 183h1v1h-1zM449 183h1v1h-1zM66 184h1v1h-1zM343 184h1v1h-1zM450 184h1v1h-1zM66 185h1v1h-1zM342 185h1v1h-1zM450 185h1v1h-1zM67 186h1v1h-1zM341 186h1v1h-1zM451 186h1v1h-1zM67 187h1v1h-1zM340 187h1v1h-1zM451 187h1v1h-1zM68 188h1v1h-1zM338 188h2v1h-2zM451 188h1v1h-1zM68 189h1v1h-1zM330 189h2v1h-2zM337 189h1v1h-1zM452 189h1v1h-1zM68 190h1v1h-1zM328 190h2v1h-2zM332 190h2v1h-2zM336 190h1v1h-1zM452 190h1v1h-1zM69 191h1v1h-1zM326 191h2v1h-2zM334 191h2v1h-2zM453 191h1v1h-1zM69 192h1v1h-1zM325 192h1v1h-1zM453 192h1v1h-1zM70 193h1v1h-1zM323 193h2v1h-2zM454 193h1v1h-1zM70 194h1v1h-1zM322 194h1v1h-1zM454 194h1v1h-1zM71 195h1v1h-1zM320 195h2v1h-2zM455 195h1v1h-1zM71 196h1v1h-1zM319 196h1v1h-1zM455 196h1v1h-1zM71 197h1v1h-1zM317 197h2v1h-2zM456 197h1v1h-1zM72 198h1v1h-1zM316 198h1v1h-1zM456 198h1v1h-1zM72 199h1v1h-1zM315 199h1v1h-1zM457 199h1v1h-1zM73 200h1v1h-1zM313 200h2v1h-2zM457 200h1v1h-1zM73 201h1v1h-1zM311 201h2v1h-2zM458 201h1v1h-1zM73 202h1v1h-1zM309 202h2v1h-2zM458 202h1v1h-1zM74 203h1v1h-1zM307 203h2v1h-2zM459 203h1v1h-1zM74 204h1v1h-1zM305 204h2v1h-2zM459 204h1v1h-1zM75 205h1v1h-1zM304 205h1v1h-1zM460 205h1v1h-1zM75 206h1v1h-1zM302 206h2v1h-2zM460 206h1v1h-1zM76 207h1v1h-1zM301 207h1v1h-1zM461 207h1v1h-1zM76 208h1v1h-1zM300 208h1v1h-1zM461 208h1v1h-1zM76 209h1v1h-1zM298 209h2v1h-2zM462 209h1v1h-1zM77 210h1v1h-1zM297 210h1v1h-1zM462 210h1v1h-1zM77 211h1v1h-1zM296 211h1v1h-1zM463 211h1v1h-1zM78 212h1v1h-1zM295 212h1v1h-1zM463 212h1v1h-1zM78 213h1v1h-1zM294 213h1v1h-1zM464 213h1v1h-1zM78 214h1v1h-1zM294 214h1v1h-1zM464 214h1v1h-1zM79 215h1v1h-1zM293 215h1v1h-1zM465 215h1v1h-1zM79 216h1v1h-1zM293 216h1v1h-1zM465 216h1v1h-1zM80 217h1v1h-1zM292 217h1v1h-1zM466 217h1v1h-1zM80 218h1v1h-1zM291 218h1v1h-1zM466 218h1v1h-1zM80 219h1v1h-1zM291 219h1v1h-1zM467 219h1v1h-1zM81 220h1v1h-1zM290 220h1v1h-1zM467 220h1v1h-1zM81 221h1v1h-1zM290 221h1v1h-1zM468 221h1v1h-1zM82 222h1v1h-1zM289 222h1v1h-1zM468 222h1v1h-1zM82 223h1v1h-1zM288 223h1v1h-1zM469 223h1v1h-1zM83 224h1v1h-1zM287 224h1v1h-1zM470 224h1v1h-1zM83 225h1v1h-1zM286 225h1v1h-1zM470 225h1v1h-1zM84 226h1v1h-1zM285 226h1v1h-1zM471 226h1v1h-1zM85 227h1v1h-1zM284 227h1v1h-1zM472 227h1v1h-1zM86 228h1v1h-1zM283 228h1v1h-1zM472 228h1v1h-1zM86 229h1v1h-1zM283 229h1v1h-1zM473 229h1v1h-1zM87 230h1v1h-1zM282 230h1v1h-1zM473 230h1v1h-1zM88 231h1v1h-1zM282 231h1v1h-1zM474 231h1v1h-1zM851 231h8v1h-8zM88 232h1v1h-1zM281 232h1v1h-1zM475 232h1v1h-1zM850 232h1v1h-1zM859 232h5v1h-5zM89 233h1v1h-1zM280 233h1v1h-1zM476 233h1v1h-1zM849 233h1v1h-1zM864 233h4v1h-4zM89 234h1v1h-1zM280 234h1v1h-1zM477 234h1v1h-1zM848 234h1v1h-1zM868 234h2v1h-2zM90 235h1v1h-1zM279 235h1v1h-1zM478 235h1v1h-1zM847 235h1v1h-1zM870 235h2v1h-2zM90 236h1v1h-1zM279 236h1v1h-1zM479 236h1v1h-1zM846 236h1v1h-1zM872 236h2v1h-2zM91 237h1v1h-1zM278 237h1v1h-1zM480 237h1v1h-1zM846 237h1v1h-1zM874 237h2v1h-2zM91 238h1v1h-1zM278 238h1v1h-1zM481 238h1v1h-1zM845 238h1v1h-1zM876 238h2v1h-2zM92 239h1v1h-1zM277 239h1v1h-1zM481 239h1v1h-1zM765 239h4v1h-4zM775 239h4v1h-4zM844 239h1v1h-1zM878 239h2v1h-2zM92 240h1v1h-1zM277 240h1v1h-1zM482 240h1v1h-1zM764 240h1v1h-1zM769 240h6v1h-6zM779 240h3v1h-3zM844 240h1v1h-1zM880 240h2v1h-2zM93 241h1v1h-1zM147 241h4v1h-4zM276 241h1v1h-1zM483 241h1v1h-1zM762 241h2v1h-2zM782 241h3v1h-3zM843 241h1v1h-1zM882 241h2v1h-2zM93 242h1v1h-1zM139 242h8v1h-8zM151 242h2v1h-2zM276 242h1v1h-1zM483 242h1v1h-1zM761 242h1v1h-1zM785 242h2v1h-2zM842 242h1v1h-1zM884 242h1v1h-1zM94 243h1v1h-1zM134 243h5v1h-5zM153 243h2v1h-2zM275 243h1v1h-1zM484 243h1v1h-1zM760 243h1v1h-1zM787 243h2v1h-2zM842 243h1v1h-1zM885 243h1v1h-1zM94 244h1v1h-1zM132 244h2v1h-2zM155 244h3v1h-3zM275 244h1v1h-1zM484 244h1v1h-1zM749 244h11v1h-11zM789 244h1v1h-1zM841 244h1v1h-1zM886 244h1v1h-1zM95 245h1v1h-1zM131 245h1v1h-1zM158 245h4v1h-4zM274 245h1v1h-1zM485 245h1v1h-1zM737 245h12v1h-12zM790 245h1v1h-1zM810 245h4v1h-4zM840 245h1v1h-1zM887 245h1v1h-1zM95 246h1v1h-1zM130 246h1v1h-1zM162 246h1v1h-1zM274 246h1v1h-1zM485 246h1v1h-1zM735 246h2v1h-2zM791 246h1v1h-1zM805 246h5v1h-5zM814 246h1v1h-1zM839 246h1v1h-1zM887 246h1v1h-1zM96 247h1v1h-1zM130 247h1v1h-1zM163 247h1v1h-1zM273 247h1v1h-1zM486 247h1v1h-1zM731 247h4v1h-4zM792 247h1v1h-1zM801 247h4v1h-4zM814 247h1v1h-1zM838 247h1v1h-1zM888 247h1v1h-1zM96 248h1v1h-1zM129 248h1v1h-1zM164 248h1v1h-1zM273 248h1v1h-1zM486 248h1v1h-1zM729 248h2v1h-2zM793 248h1v1h-1zM797 248h4v1h-4zM815 248h1v1h-1zM837 248h1v1h-1zM889 248h1v1h-1zM97 249h1v1h-1zM128 249h1v1h-1zM165 249h1v1h-1zM272 249h1v1h-1zM487 249h1v1h-1zM727 249h2v1h-2zM794 249h3v1h-3zM815 249h1v1h-1zM836 249h1v1h-1zM890 249h1v1h-1zM98 250h1v1h-1zM127 250h1v1h-1zM166 250h1v1h-1zM272 250h1v1h-1zM487 250h1v1h-1zM718 250h5v1h-5zM726 250h1v1h-1zM816 250h1v1h-1zM835 250h1v1h-1zM890 250h1v1h-1zM98 251h1v1h-1zM127 251h1v1h-1zM167 251h2v1h-2zM271 251h1v1h-1zM488 251h1v1h-1zM714 251h4v1h-4zM723 251h3v1h-3zM816 251h1v1h-1zM833 251h2v1h-2zM891 251h1v1h-1zM99 252h1v1h-1zM126 252h1v1h-1zM169 252h3v1h-3zM271 252h1v1h-1zM488 252h1v1h-1zM710 252h4v1h-4zM817 252h1v1h-1zM832 252h1v1h-1zM892 252h1v1h-1zM100 253h1v1h-1zM125 253h1v1h-1zM172 253h8v1h-8zM270 253h1v1h-1zM488 253h1v1h-1zM707 253h3v1h-3zM817 253h1v1h-1zM830 253h2v1h-2zM892 253h1v1h-1zM100 254h1v1h-1zM124 254h1v1h-1zM180 254h1v1h-1zM270 254h1v1h-1zM489 254h1v1h-1zM705 254h2v1h-2zM818 254h2v1h-2zM828 254h2v1h-2zM893 254h1v1h-1zM101 255h1v1h-1zM124 255h1v1h-1zM181 255h1v1h-1zM269 255h1v1h-1zM489 255h1v1h-1zM702 255h3v1h-3zM820 255h2v1h-2zM825 255h3v1h-3zM893 255h1v1h-1zM102 256h2v1h-2zM123 256h1v1h-1zM181 256h1v1h-1zM269 256h1v1h-1zM490 256h1v1h-1zM699 256h3v1h-3zM822 256h3v1h-3zM894 256h1v1h-1zM104 257h2v1h-2zM122 257h1v1h-1zM182 257h1v1h-1zM268 257h1v1h-1zM490 257h1v1h-1zM697 257h2v1h-2zM895 257h1v1h-1zM106 258h4v1h-4zM121 258h1v1h-1zM183 258h1v1h-1zM268 258h1v1h-1zM490 258h1v1h-1zM694 258h3v1h-3zM895 258h1v1h-1zM110 259h3v1h-3zM120 259h1v1h-1zM183 259h1v1h-1zM267 259h1v1h-1zM491 259h1v1h-1zM691 259h3v1h-3zM896 259h1v1h-1zM113 260h1v1h-1zM118 260h2v1h-2zM184 260h1v1h-1zM267 260h1v1h-1zM491 260h1v1h-1zM689 260h2v1h-2zM897 260h1v1h-1zM114 261h2v1h-2zM117 261h1v1h-1zM184 261h1v1h-1zM266 261h1v1h-1zM491 261h1v1h-1zM686 261h3v1h-3zM897 261h1v1h-1zM116 262h1v1h-1zM185 262h1v1h-1zM266 262h1v1h-1zM492 262h1v1h-1zM684 262h2v1h-2zM898 262h1v1h-1zM185 263h1v1h-1zM265 263h1v1h-1zM492 263h1v1h-1zM682 263h2v1h-2zM898 263h1v1h-1zM186 264h1v1h-1zM265 264h1v1h-1zM492 264h1v1h-1zM680 264h2v1h-2zM899 264h1v1h-1zM186 265h1v1h-1zM264 265h1v1h-1zM493 265h1v1h-1zM679 265h1v1h-1zM900 265h1v1h-1zM186 266h1v1h-1zM264 266h1v1h-1zM493 266h1v1h-1zM679 266h1v1h-1zM900 266h1v1h-1zM187 267h1v1h-1zM263 267h1v1h-1zM493 267h1v1h-1zM678 267h1v1h-1zM901 267h1v1h-1zM187 268h1v1h-1zM263 268h1v1h-1zM494 268h1v1h-1zM677 268h1v1h-1zM902 268h1v1h-1zM188 269h1v1h-1zM262 269h1v1h-1zM494 269h1v1h-1zM677 269h1v1h-1zM902 269h1v1h-1zM188 270h1v1h-1zM262 270h1v1h-1zM495 270h1v1h-1zM676 270h1v1h-1zM903 270h1v1h-1zM189 271h1v1h-1zM261 271h1v1h-1zM495 271h1v1h-1zM676 271h1v1h-1zM903 271h1v1h-1zM189 272h1v1h-1zM261 272h1v1h-1zM496 272h1v1h-1zM675 272h1v1h-1zM904 272h1v1h-1zM190 273h1v1h-1zM260 273h1v1h-1zM496 273h1v1h-1zM675 273h1v1h-1zM905 273h1v1h-1zM190 274h1v1h-1zM260 274h1v1h-1zM497 274h1v1h-1zM674 274h1v1h-1zM905 274h1v1h-1zM191 275h1v1h-1zM259 275h1v1h-1zM497 275h1v1h-1zM674 275h1v1h-1zM906 275h1v1h-1zM191 276h1v1h-1zM259 276h1v1h-1zM498 276h1v1h-1zM673 276h1v1h-1zM906 276h1v1h-1zM192 277h1v1h-1zM258 277h1v1h-1zM498 277h1v1h-1zM673 277h1v1h-1zM907 277h1v1h-1zM192 278h1v1h-1zM258 278h1v1h-1zM499 278h2v1h-2zM672 278h1v1h-1zM908 278h1v1h-1zM193 279h1v1h-1zM257 279h1v1h-1zM501 279h2v1h-2zM672 279h1v1h-1zM909 279h1v1h-1zM193 280h1v1h-1zM257 280h1v1h-1zM503 280h2v1h-2zM671 280h1v1h-1zM910 280h1v1h-1zM194 281h1v1h-1zM256 281h1v1h-1zM505 281h1v1h-1zM671 281h1v1h-1zM911 281h1v1h-1zM194 282h1v1h-1zM256 282h1v1h-1zM505 282h1v1h-1zM671 282h1v1h-1zM912 282h1v1h-1zM194 283h1v1h-1zM255 283h1v1h-1zM506 283h1v1h-1zM670 283h1v1h-1zM913 283h1v1h-1zM195 284h1v1h-1zM254 284h1v1h-1zM507 284h1v1h-1zM670 284h1v1h-1zM914 284h2v1h-2zM195 285h1v1h-1zM254 285h1v1h-1zM508 285h1v1h-1zM669 285h1v1h-1zM916 285h1v1h-1zM196 286h1v1h-1zM253 286h1v1h-1zM508 286h1v1h-1zM669 286h1v1h-1zM917 286h1v1h-1zM196 287h1v1h-1zM253 287h1v1h-1zM509 287h1v1h-1zM669 287h1v1h-1zM918 287h1v1h-1zM197 288h1v1h-1zM252 288h1v1h-1zM510 288h1v1h-1zM668 288h1v1h-1zM919 288h2v1h-2zM197 289h1v1h-1zM252 289h1v1h-1zM511 289h1v1h-1zM668 289h1v1h-1zM921 289h1v1h-1zM198 290h1v1h-1zM251 290h1v1h-1zM512 290h1v1h-1zM667 290h1v1h-1zM922 290h1v1h-1zM198 291h1v1h-1zM251 291h1v1h-1zM513 291h1v1h-1zM667 291h1v1h-1zM199 292h1v1h-1zM250 292h1v1h-1zM514 292h1v1h-1zM666 292h1v1h-1zM199 293h1v1h-1zM250 293h1v1h-1zM515 293h1v1h-1zM666 293h1v1h-1zM200 294h1v1h-1zM249 294h1v1h-1zM516 294h2v1h-2zM666 294h1v1h-1zM200 295h1v1h-1zM249 295h1v1h-1zM518 295h2v1h-2zM665 295h1v1h-1zM201 296h1v1h-1zM248 296h1v1h-1zM520 296h1v1h-1zM665 296h1v1h-1zM202 297h1v1h-1zM248 297h1v1h-1zM520 297h1v1h-1zM664 297h1v1h-1zM202 298h1v1h-1zM247 298h1v1h-1zM521 298h1v1h-1zM664 298h1v1h-1zM203 299h1v1h-1zM247 299h1v1h-1zM521 299h1v1h-1zM663 299h1v1h-1zM204 300h1v1h-1zM246 300h1v1h-1zM522 300h1v1h-1zM663 300h1v1h-1zM204 301h1v1h-1zM246 301h1v1h-1zM522 301h1v1h-1zM663 301h1v1h-1zM205 302h1v1h-1zM245 302h1v1h-1zM523 302h1v1h-1zM662 302h1v1h-1zM206 303h1v1h-1zM245 303h1v1h-1zM523 303h1v1h-1zM662 303h1v1h-1zM207 304h1v1h-1zM244 304h1v1h-1zM524 304h1v1h-1zM661 304h1v1h-1zM208 305h1v1h-1zM244 305h1v1h-1zM524 305h1v1h-1zM661 305h1v1h-1zM209 306h1v1h-1zM243 306h1v1h-1zM525 306h1v1h-1zM660 306h1v1h-1zM210 307h1v1h-1zM243 307h1v1h-1zM526 307h1v1h-1zM660 307h1v1h-1zM211 308h1v1h-1zM242 308h1v1h-1zM526 308h1v1h-1zM660 308h1v1h-1zM212 309h2v1h-2zM241 309h1v1h-1zM527 309h1v1h-1zM659 309h1v1h-1zM214 310h1v1h-1zM241 310h1v1h-1zM527 310h1v1h-1zM659 310h1v1h-1zM215 311h2v1h-2zM239 311h2v1h-2zM528 311h1v1h-1zM658 311h1v1h-1zM217 312h2v1h-2zM237 312h2v1h-2zM529 312h1v1h-1zM658 312h1v1h-1zM219 313h3v1h-3zM235 313h2v1h-2zM529 313h1v1h-1zM657 313h1v1h-1zM222 314h3v1h-3zM232 314h3v1h-3zM530 314h1v1h-1zM657 314h1v1h-1zM225 315h2v1h-2zM230 315h2v1h-2zM531 315h1v1h-1zM657 315h1v1h-1zM227 316h3v1h-3zM531 316h1v1h-1zM656 316h1v1h-1zM532 317h1v1h-1zM656 317h1v1h-1zM532 318h1v1h-1zM655 318h1v1h-1zM533 319h1v1h-1zM655 319h1v1h-1zM534 320h1v1h-1zM654 320h1v1h-1zM535 321h1v1h-1zM654 321h1v1h-1zM536 322h2v1h-2zM654 322h1v1h-1zM538 323h1v1h-1zM653 323h1v1h-1zM539 324h3v1h-3zM653 324h1v1h-1zM542 325h4v1h-4zM652 325h1v1h-1zM546 326h1v1h-1zM652 326h1v1h-1zM547 327h2v1h-2zM651 327h1v1h-1zM549 328h1v1h-1zM651 328h1v1h-1zM550 329h1v1h-1zM650 329h1v1h-1zM551 330h1v1h-1zM650 330h1v1h-1zM551 331h1v1h-1zM649 331h1v1h-1zM552 332h1v1h-1zM649 332h1v1h-1zM553 333h1v1h-1zM649 333h1v1h-1zM554 334h1v1h-1zM648 334h1v1h-1zM554 335h1v1h-1zM648 335h1v1h-1zM555 336h1v1h-1zM647 336h1v1h-1zM555 337h1v1h-1zM647 337h1v1h-1zM556 338h1v1h-1zM646 338h1v1h-1zM556 339h1v1h-1zM646 339h1v1h-1zM556 340h1v1h-1zM646 340h1v1h-1zM557 341h1v1h-1zM645 341h1v1h-1zM557 342h1v1h-1zM645 342h1v1h-1zM558 343h1v1h-1zM645 343h1v1h-1zM558 344h1v1h-1zM644 344h1v1h-1zM558 345h1v1h-1zM644 345h1v1h-1zM559 346h1v1h-1zM644 346h1v1h-1zM559 347h1v1h-1zM643 347h1v1h-1zM559 348h1v1h-1zM643 348h1v1h-1zM560 349h1v1h-1zM643 349h1v1h-1zM560 350h1v1h-1zM642 350h1v1h-1zM560 351h1v1h-1zM642 351h1v1h-1zM561 352h1v1h-1zM642 352h1v1h-1zM561 353h1v1h-1zM641 353h1v1h-1zM561 354h1v1h-1zM641 354h1v1h-1zM562 355h1v1h-1zM641 355h1v1h-1zM562 356h1v1h-1zM640 356h1v1h-1zM563 357h1v1h-1zM640 357h1v1h-1zM563 358h1v1h-1zM640 358h1v1h-1zM563 359h1v1h-1zM639 359h1v1h-1zM564 360h1v1h-1zM639 360h1v1h-1zM564 361h1v1h-1zM639 361h1v1h-1zM564 362h1v1h-1zM638 362h1v1h-1zM565 363h1v1h-1zM638 363h1v1h-1zM565 364h1v1h-1zM637 364h1v1h-1zM566 365h1v1h-1zM637 365h1v1h-1zM566 366h1v1h-1zM636 366h1v1h-1zM567 367h1v1h-1zM636 367h1v1h-1zM567 368h1v1h-1zM635 368h1v1h-1zM568 369h1v1h-1zM635 369h1v1h-1zM568 370h1v1h-1zM635 370h1v1h-1zM569 371h1v1h-1zM634 371h1v1h-1zM569 372h1v1h-1zM634 372h1v1h-1zM570 373h1v1h-1zM633 373h1v1h-1zM570 374h1v1h-1zM633 374h1v1h-1zM571 375h1v1h-1zM632 375h1v1h-1zM571 376h1v1h-1zM632 376h1v1h-1zM572 377h1v1h-1zM631 377h1v1h-1zM572 378h1v1h-1zM631 378h1v1h-1zM573 379h1v1h-1zM630 379h1v1h-1zM573 380h1v1h-1zM630 380h1v1h-1zM574 381h1v1h-1zM630 381h1v1h-1zM574 382h1v1h-1zM630 382h1v1h-1zM575 383h1v1h-1zM629 383h1v1h-1zM576 384h1v1h-1zM629 384h1v1h-1zM577 385h1v1h-1zM629 385h1v1h-1zM578 386h1v1h-1zM629 386h1v1h-1zM579 387h1v1h-1zM629 387h1v1h-1zM580 388h1v1h-1zM628 388h1v1h-1zM581 389h1v1h-1zM628 389h1v1h-1zM581 390h1v1h-1zM628 390h1v1h-1zM582 391h1v1h-1zM628 391h1v1h-1zM583 392h1v1h-1zM628 392h1v1h-1zM584 393h1v1h-1zM627 393h1v1h-1zM584 394h1v1h-1zM627 394h1v1h-1zM585 395h1v1h-1zM627 395h1v1h-1zM586 396h1v1h-1zM625 396h2v1h-2zM586 397h1v1h-1zM623 397h2v1h-2zM587 398h1v1h-1zM622 398h1v1h-1zM587 399h1v1h-1zM621 399h1v1h-1zM588 400h1v1h-1zM620 400h1v1h-1zM589 401h1v1h-1zM620 401h1v1h-1zM589 402h1v1h-1zM619 402h1v1h-1zM590 403h1v1h-1zM618 403h1v1h-1zM591 404h1v1h-1zM617 404h1v1h-1zM591 405h1v1h-1zM617 405h1v1h-1zM592 406h1v1h-1zM616 406h1v1h-1zM592 407h1v1h-1zM615 407h1v1h-1zM593 408h1v1h-1zM614 408h1v1h-1zM594 409h1v1h-1zM614 409h1v1h-1zM595 410h1v1h-1zM613 410h1v1h-1zM596 411h1v1h-1zM612 411h1v1h-1zM597 412h1v1h-1zM610 412h2v1h-2zM598 413h2v1h-2zM609 413h1v1h-1zM600 414h2v1h-2zM606 414h3v1h-3zM602 415h4v1h-4z" fill="#ff0000"/><rect x="58" y="199" width="3" height="1" fill="#000"/><path d="M3 150h1v47h-1zM2 152h3v35h-3zM27 119h1v51h-1zM26 130h3v16h-3zM31 138h1v40h-1zM30 145h3v32h-3zM43 138h1v43h-1zM42 142h3v22h-3zM47 160h1v43h-1zM46 162h3v37h-3zM51 174h1v52h-1zM50 198h3v14h-3zM63 214h1v101h-1zM62 218h3v75h-3zM67 267h1v98h-1zM66 291h3v23h-3zM79 245h1v46h-1zM78 258h3v26h-3zM91 240h1v52h-1zM90 246h3v33h-3zM115 206h1v47h-1zM114 210h3v35h-3zM119 233h1v42h-1zM118 245h3v30h-3zM135 210h1v28h-1zM134 216h3v6h-3zM139 212h1v49h-1zM138 220h3v38h-3zM147 177h1v85h-1zM146 214h3v37h-3zM151 239h1v76h-1zM150 250h3v61h-3zM163 242h1v45h-1zM162 246h3v26h-3zM175 226h1v50h-1zM174 247h3v26h-3zM179 272h1v8h-1zM178 273h3v5h-3zM183 272h1v42h-1zM182 279h3v33h-3zM187 297h1v53h-1zM186 311h3v37h-3zM195 323h1v33h-1zM194 335h3v17h-3zM203 342h1v10h-1zM202 346h3v2h-3zM207 344h1v41h-1zM206 346h3v31h-3zM223 255h1v55h-1zM222 257h3v27h-3zM235 250h1v41h-1zM234 250h3v23h-3zM239 261h1v50h-1zM238 272h3v15h-3zM255 244h1v25h-1zM254 254h3v11h-3zM263 243h1v39h-1zM262 245h3v13h-3zM275 152h1v29h-1zM274 170h3v10h-3zM283 91h1v95h-1zM282 119h3v43h-3zM287 153h1v48h-1zM286 161h3v23h-3zM291 177h1v59h-1zM290 183h3v43h-3zM299 198h1v13h-1zM298 201h3v5h-3zM307 194h1v25h-1zM306 202h3v2h-3zM315 183h1v50h-1zM314 187h3v11h-3zM323 183h1v12h-1zM322 184h3v9h-3zM327 175h1v27h-1zM326 179h3v20h-3zM343 108h1v29h-1zM342 114h3v16h-3zM347 122h1v10h-1zM346 129h3v1h-3zM359 63h1v42h-1zM358 69h3v21h-3zM367 64h1v13h-1zM366 70h3v5h-3zM371 65h1v10h-1zM370 67h3v7h-3zM375 53h1v53h-1zM374 73h3v30h-3zM379 87h1v46h-1zM378 102h3v30h-3zM391 77h1v37h-1zM390 96h3v6h-3zM399 85h1v37h-1zM398 95h3v18h-3zM403 98h1v28h-1zM402 113h3v10h-3zM407 118h1v42h-1zM406 121h3v35h-3zM411 124h1v40h-1zM410 154h3v2h-3zM415 138h1v30h-1zM414 154h3v7h-3zM423 142h1v58h-1zM422 152h3v34h-3zM427 183h1v44h-1zM426 185h3v21h-3zM431 197h1v29h-1zM430 205h3v20h-3zM443 218h1v10h-1zM442 221h3v7h-3zM447 220h1v31h-1zM446 224h3v26h-3zM455 227h1v28h-1zM454 243h3v9h-3zM459 244h1v31h-1zM458 251h3v13h-3zM471 235h1v25h-1zM470 253h3v2h-3zM479 217h1v28h-1zM478 228h3v5h-3zM483 222h1v46h-1zM482 232h3v34h-3zM487 262h1v94h-1zM486 264h3v92h-3zM495 332h1v47h-1zM494 357h3v11h-3zM507 274h1v30h-1zM506 278h3v14h-3zM511 288h1v41h-1zM510 290h3v24h-3zM515 311h1v6h-1zM514 313h3v3h-3zM523 305h1v48h-1zM522 307h3v33h-3zM539 310h1v10h-1zM538 312h3v8h-3zM543 311h1v53h-1zM542 321h3v37h-3zM547 357h1v44h-1zM546 358h3v14h-3zM551 362h1v67h-1zM550 371h3v42h-3zM555 399h1v46h-1zM554 412h3v16h-3zM559 419h1v42h-1zM558 427h3v22h-3zM563 447h1v13h-1zM562 448h3v10h-3zM567 430h1v43h-1zM566 438h3v1h-3zM575 402h1v26h-1zM574 417h3v8h-3zM583 365h1v48h-1zM582 387h3v20h-3zM591 386h1v23h-1zM590 399h3v5h-3zM599 380h1v39h-1zM598 386h3v23h-3zM611 386h1v10h-1zM610 387h3v9h-3zM623 367h1v30h-1zM622 368h3v28h-3zM635 276h1v11h-1zM634 279h3v3h-3zM647 214h1v42h-1zM646 232h3v18h-3zM651 230h1v37h-1zM650 250h3v2h-3zM655 249h1v43h-1zM654 252h3v25h-3zM663 260h1v22h-1zM662 279h3v3h-3zM683 243h1v18h-1zM682 247h3v9h-3zM687 249h1v30h-1zM686 256h3v16h-3zM695 230h1v39h-1zM694 236h3v17h-3zM703 204h1v35h-1zM702 210h3v21h-3zM707 227h1v12h-1zM706 230h3v6h-3zM711 234h1v19h-1zM710 243h3v4h-3zM715 236h1v30h-1zM714 246h3v17h-3zM719 232h1v63h-1zM718 262h3v9h-3zM723 257h1v26h-1zM722 270h3v4h-3zM731 237h1v18h-1zM730 238h3v15h-3zM739 207h1v33h-1zM738 222h3v8h-3zM743 222h1v50h-1zM742 229h3v40h-3zM755 235h1v16h-1zM754 235h3v15h-3zM767 151h1v62h-1zM766 162h3v39h-3zM771 184h1v101h-1zM770 200h3v80h-3zM783 254h1v24h-1zM782 266h3v3h-3zM791 260h1v30h-1zM790 265h3v10h-3zM795 266h1v22h-1zM794 273h3v9h-3zM803 236h1v16h-1zM802 239h3v7h-3zM815 217h1v35h-1zM814 228h3v20h-3zM819 237h1v18h-1zM818 247h3v1h-3zM827 243h1v7h-1zM826 244h3v6h-3zM831 238h1v13h-1zM830 240h3v10h-3zM839 209h1v32h-1zM838 213h3v18h-3zM851 196h1v11h-1zM850 196h3v11h-3zM855 202h1v37h-1zM854 202h3v35h-3zM859 230h1v38h-1zM858 236h3v22h-3zM871 228h1v44h-1zM870 240h3v32h-3zM875 268h1v10h-1zM874 271h3v3h-3zM883 255h1v46h-1zM882 269h3v18h-3zM887 269h1v30h-1zM886 285h3v13h-3zM895 282h1v61h-1zM894 297h3v22h-3zM911 271h1v17h-1zM910 278h3v1h-3zM915 272h1v28h-1zM914 278h3v18h-3zM919 287h1v52h-1zM918 296h3v19h-3z" fill="#32cd32"/><path d="M7 168h1v37h-1zM6 175h3v13h-3zM11 145h1v41h-1zM10 174h3v2h-3zM15 160h1v17h-1zM14 164h3v10h-3zM19 108h1v55h-1zM18 138h3v22h-3zM23 117h1v36h-1zM22 130h3v9h-3zM35 167h1v12h-1zM34 174h3v3h-3zM39 139h1v41h-1zM38 142h3v33h-3zM55 197h1v19h-1zM54 205h3v7h-3zM71 283h1v59h-1zM70 290h3v24h-3zM75 257h1v63h-1zM74 257h3v34h-3zM83 248h1v42h-1zM82 265h3v19h-3zM87 222h1v41h-1zM86 246h3v6h-3zM95 263h1v51h-1zM94 270h3v9h-3zM99 245h1v37h-1zM98 255h3v17h-3zM103 232h1v44h-1zM102 236h3v20h-3zM107 232h1v13h-1zM106 232h3v6h-3zM111 191h1v49h-1zM110 210h3v19h-3zM123 262h1v25h-1zM122 265h3v11h-3zM127 207h1v67h-1zM126 214h3v52h-3zM131 206h1v18h-1zM130 209h3v9h-3zM143 203h1v63h-1zM142 214h3v44h-3zM155 284h1v28h-1zM154 294h3v17h-3zM159 242h1v67h-1zM158 245h3v41h-3zM167 263h1v24h-1zM166 271h3v1h-3zM171 244h1v40h-1zM170 247h3v25h-3zM191 329h1v35h-1zM190 335h3v13h-3zM199 317h1v39h-1zM198 344h3v8h-3zM211 332h1v53h-1zM210 344h3v33h-3zM215 295h1v53h-1zM214 303h3v41h-3zM219 255h1v78h-1zM218 256h3v48h-3zM227 269h1v23h-1zM226 272h3v12h-3zM231 248h1v49h-1zM230 250h3v45h-3zM243 273h1v34h-1zM242 273h3v14h-3zM247 190h1v87h-1zM246 244h3v32h-3zM251 223h1v25h-1zM250 229h3v17h-3zM259 234h1v36h-1zM258 246h3v18h-3zM267 239h1v22h-1zM266 250h3v8h-3zM271 168h1v86h-1zM270 169h3v82h-3zM279 116h1v79h-1zM278 118h3v72h-3zM295 179h1v70h-1zM294 201h3v25h-3zM303 174h1v43h-1zM302 202h3v6h-3zM311 186h1v22h-1zM310 188h3v15h-3zM319 164h1v38h-1zM318 184h3v14h-3zM331 176h1v25h-1zM330 180h3v19h-3zM335 152h1v33h-1zM334 159h3v22h-3zM339 112h1v52h-1zM338 114h3v46h-3zM351 53h1v79h-1zM350 71h3v56h-3zM355 53h1v29h-1zM354 70h3v2h-3zM363 46h1v54h-1zM362 70h3v20h-3zM383 117h1v19h-1zM382 120h3v12h-3zM387 91h1v36h-1zM386 96h3v25h-3zM395 94h1v8h-1zM394 98h3v4h-3zM419 150h1v12h-1zM418 154h3v7h-3zM435 217h1v24h-1zM434 222h3v3h-3zM439 205h1v27h-1zM438 220h3v2h-3zM451 230h1v29h-1zM450 243h3v7h-3zM463 253h1v22h-1zM462 260h3v5h-3zM467 252h1v12h-1zM466 253h3v7h-3zM475 220h1v42h-1zM474 228h3v27h-3zM491 341h1v17h-1zM490 352h3v4h-3zM499 328h1v40h-1zM498 334h3v34h-3zM503 276h1v66h-1zM502 278h3v56h-3zM519 295h1v23h-1zM518 306h3v8h-3zM527 314h1v40h-1zM526 332h3v8h-3zM531 309h1v33h-1zM530 325h3v8h-3zM535 312h1v26h-1zM534 313h3v8h-3zM571 412h1v46h-1zM570 417h3v23h-3zM579 385h1v42h-1zM578 386h3v39h-3zM587 402h1v5h-1zM586 403h3v4h-3zM595 383h1v32h-1zM594 386h3v18h-3zM603 395h1v31h-1zM602 405h3v4h-3zM607 386h1v37h-1zM606 387h3v19h-3zM615 350h1v45h-1zM614 372h3v21h-3zM619 366h1v20h-1zM618 368h3v4h-3zM627 279h1v126h-1zM626 281h3v114h-3zM631 267h1v45h-1zM630 279h3v3h-3zM639 241h1v52h-1zM638 253h3v34h-3zM643 229h1v44h-1zM642 232h3v22h-3zM659 271h1v9h-1zM658 274h3v2h-3zM667 255h1v29h-1zM666 266h3v15h-3zM671 261h1v21h-1zM670 266h3v1h-3zM675 249h1v24h-1zM674 253h3v14h-3zM679 221h1v40h-1zM678 247h3v6h-3zM691 232h1v49h-1zM690 237h3v35h-3zM699 204h1v57h-1zM698 210h3v43h-3zM727 236h1v44h-1zM726 237h3v37h-3zM735 212h1v37h-1zM734 222h3v26h-3zM747 245h1v32h-1zM746 248h3v21h-3zM751 228h1v32h-1zM750 235h3v14h-3zM759 214h1v35h-1zM758 237h3v12h-3zM763 157h1v90h-1zM762 161h3v77h-3zM775 253h1v41h-1zM774 270h3v10h-3zM779 262h1v14h-1zM778 266h3v5h-3zM787 260h1v16h-1zM786 264h3v5h-3zM799 233h1v51h-1zM798 239h3v43h-3zM807 226h1v27h-1zM806 232h3v6h-3zM811 223h1v14h-1zM810 228h3v5h-3zM823 231h1v18h-1zM822 244h3v3h-3zM835 213h1v42h-1zM834 213h3v37h-3zM843 197h1v46h-1zM842 209h3v22h-3zM847 186h1v26h-1zM846 196h3v14h-3zM863 241h1v23h-1zM862 256h3v2h-3zM867 232h1v32h-1zM866 240h3v18h-3zM879 262h1v12h-1zM878 269h3v3h-3zM891 278h1v23h-1zM890 297h3v1h-3zM899 315h1v11h-1zM898 317h3v2h-3zM903 285h1v32h-1zM902 292h3v25h-3zM907 268h1v33h-1zM906 277h3v17h-3zM923 308h1v11h-1zM922 310h3v5h-3z" fill="#ff0000"/><path d="M7 176h1v11h-1zM15 165h1v8h-1zM19 139h1v20h-1zM23 131h1v7h-1zM35 175h1v1h-1zM39 143h1v31h-1zM55 206h1v5h-1zM71 291h1v22h-1zM75 258h1v32h-1zM83 266h1v17h-1zM87 247h1v4h-1zM95 271h1v7h-1zM99 256h1v15h-1zM103 237h1v18h-1zM107 233h1v4h-1zM111 211h1v17h-1zM123 266h1v9h-1zM127 215h1v50h-1zM131 210h1v7h-1zM143 215h1v42h-1zM155 295h1v15h-1zM159 246h1v39h-1zM171 248h1v23h-1zM191 336h1v11h-1zM199 345h1v6h-1zM211 345h1v31h-1zM215 304h1v39h-1zM219 257h1v46h-1zM227 273h1v10h-1zM231 251h1v43h-1zM243 274h1v12h-1zM247 245h1v30h-1zM251 230h1v15h-1zM259 247h1v16h-1zM267 251h1v6h-1zM271 170h1v80h-1zM279 119h1v70h-1zM295 202h1v23h-1zM303 203h1v4h-1zM311 189h1v13h-1zM319 185h1v12h-1zM331 181h1v17h-1zM335 160h1v20h-1zM339 115h1v44h-1zM351 72h1v54h-1zM363 71h1v18h-1zM383 121h1v10h-1zM387 97h1v23h-1zM395 99h1v2h-1zM419 155h1v5h-1zM435 223h1v1h-1zM451 244h1v5h-1zM463 261h1v3h-1zM467 254h1v5h-1zM475 229h1v25h-1zM491 353h1v2h-1zM499 335h1v32h-1zM503 279h1v54h-1zM519 307h1v6h-1zM527 333h1v6h-1zM531 326h1v6h-1zM535 314h1v6h-1zM571 418h1v21h-1zM579 387h1v37h-1zM587 404h1v2h-1zM595 387h1v16h-1zM603 406h1v2h-1zM607 388h1v17h-1zM615 373h1v19h-1zM619 369h1v2h-1zM627 282h1v112h-1zM631 280h1v1h-1zM639 254h1v32h-1zM643 233h1v20h-1zM667 267h1v13h-1zM675 254h1v12h-1zM679 248h1v4h-1zM691 238h1v33h-1zM699 211h1v41h-1zM727 238h1v35h-1zM735 223h1v24h-1zM747 249h1v19h-1zM751 236h1v12h-1zM759 238h1v10h-1zM763 162h1v75h-1zM775 271h1v8h-1zM779 267h1v3h-1zM787 265h1v3h-1zM799 240h1v41h-1zM807 233h1v4h-1zM811 229h1v3h-1zM823 245h1v1h-1zM835 214h1v35h-1zM843 210h1v20h-1zM847 197h1v12h-1zM867 241h1v16h-1zM879 270h1v1h-1zM903 293h1v23h-1zM907 278h1v15h-1zM923 311h1v3h-1z" fill="#ff4500"/></g><defs><clipPath id="c2"><rect x="3" y="486" width="1162" height="83"/></clipPath></defs><g clip-path="url(#c2)"><path d="M2 524h3v33h-3zM6 524h3v32h-3zM10 524h3v30h-3zM14 524h3v28h-3zM18 524h3v25h-3zM22 524h3v22h-3zM26 524h3v20h-3zM30 524h3v21h-3zM34 524h3v20h-3zM38 524h3v19h-3zM42 524h3v18h-3zM46 524h3v20h-3zM50 524h3v21h-3zM54 524h3v22h-3zM58 524h3v24h-3zM62 524h3v28h-3zM66 524h3v33h-3zM70 524h3v36h-3zM74 524h3v36h-3zM78 524h3v36h-3zM82 524h3v35h-3zM86 524h3v33h-3zM90 524h3v32h-3zM94 524h3v30h-3zM98 524h3v28h-3zM102 524h3v26h-3zM106 524h3v22h-3zM110 524h3v20h-3zM114 524h3v19h-3zM118 524h3v18h-3zM122 524h3v16h-3zM126 524h3v14h-3zM130 524h3v11h-3zM134 524h3v9h-3zM138 524h3v8h-3zM142 524h3v9h-3zM146 524h3v11h-3zM150 524h3v12h-3zM154 524h3v14h-3zM158 524h3v13h-3zM162 524h3v13h-3zM166 524h3v13h-3zM170 524h3v12h-3zM174 524h3v12h-3zM178 524h3v13h-3zM182 524h3v15h-3zM186 524h3v18h-3zM190 524h3v21h-3zM194 524h3v23h-3zM198 524h3v25h-3zM202 524h3v26h-3zM206 524h3v27h-3zM210 524h3v27h-3zM214 524h3v22h-3zM218 524h3v17h-3zM222 524h3v13h-3zM226 524h3v9h-3zM230 524h3v6h-3zM234 524h3v5h-3zM238 524h3v4h-3zM242 524h3v2h-3zM246 523h3v1h-3zM250 521h3v3h-3zM254 520h3v4h-3zM258 519h3v5h-3zM262 518h3v6h-3zM266 516h3v8h-3zM270 511h3v13h-3zM274 506h3v18h-3zM278 501h3v23h-3zM282 499h3v25h-3zM286 500h3v24h-3zM290 502h3v22h-3zM294 504h3v20h-3zM298 506h3v18h-3zM302 506h3v18h-3zM306 507h3v17h-3zM310 507h3v17h-3zM314 508h3v16h-3zM318 508h3v16h-3zM322 509h3v15h-3zM326 509h3v15h-3zM330 509h3v15h-3zM334 508h3v16h-3zM338 504h3v20h-3zM342 502h3v22h-3zM346 500h3v24h-3zM350 497h3v27h-3zM354 495h3v29h-3zM358 493h3v31h-3zM362 492h3v32h-3zM366 490h3v34h-3zM370 491h3v33h-3zM374 493h3v31h-3zM378 497h3v27h-3zM382 499h3v25h-3zM386 500h3v24h-3zM390 501h3v23h-3zM394 502h3v22h-3zM398 505h3v19h-3zM402 507h3v17h-3zM406 512h3v12h-3zM410 515h3v9h-3zM414 518h3v6h-3zM418 521h3v3h-3zM422 523h3v1h-3zM426 524h3v5h-3zM430 524h3v9h-3zM434 524h3v13h-3zM438 524h3v16h-3zM442 524h3v18h-3zM446 524h3v20h-3zM450 524h3v22h-3zM454 524h3v23h-3zM458 524h3v25h-3zM462 524h3v26h-3zM466 524h3v26h-3zM470 524h3v26h-3zM474 524h3v22h-3zM478 524h3v22h-3zM482 524h3v24h-3zM486 524h3v28h-3zM490 524h3v33h-3zM494 524h3v37h-3zM498 524h3v38h-3zM502 524h3v34h-3zM506 524h3v30h-3zM510 524h3v29h-3zM514 524h3v29h-3zM518 524h3v28h-3zM522 524h3v28h-3zM526 524h3v28h-3zM530 524h3v27h-3zM534 524h3v25h-3zM538 524h3v23h-3zM542 524h3v25h-3zM546 524h3v28h-3zM550 524h3v31h-3zM554 524h3v34h-3zM558 524h3v37h-3zM562 524h3v41h-3zM566 524h3v42h-3zM570 524h3v40h-3zM574 524h3v38h-3zM578 524h3v35h-3zM582 524h3v33h-3zM586 524h3v31h-3zM590 524h3v29h-3zM594 524h3v26h-3zM598 524h3v24h-3zM602 524h3v22h-3zM606 524h3v20h-3zM610 524h3v18h-3zM614 524h3v16h-3zM618 524h3v14h-3zM622 524h3v11h-3zM626 524h3v3h-3zM630 522h3v2h-3zM634 518h3v6h-3zM638 511h3v13h-3zM642 505h3v19h-3zM646 502h3v22h-3zM650 500h3v24h-3zM654 500h3v24h-3zM658 501h3v23h-3zM662 502h3v22h-3zM666 503h3v21h-3zM670 503h3v21h-3zM674 503h3v21h-3zM678 502h3v22h-3zM682 502h3v22h-3zM686 503h3v21h-3zM690 503h3v21h-3zM694 502h3v22h-3zM698 501h3v23h-3zM702 501h3v23h-3zM706 502h3v22h-3zM710 504h3v20h-3zM714 506h3v18h-3zM718 510h3v14h-3zM722 511h3v13h-3zM726 511h3v13h-3zM730 511h3v13h-3zM734 510h3v14h-3zM738 510h3v14h-3zM742 513h3v11h-3zM746 513h3v11h-3zM750 513h3v11h-3zM754 514h3v10h-3zM758 513h3v11h-3zM762 509h3v15h-3zM766 509h3v15h-3zM770 513h3v11h-3zM774 516h3v8h-3zM778 519h3v5h-3zM782 520h3v4h-3zM786 522h3v2h-3zM790 524h3v1h-3zM794 524h3v1h-3zM798 524h3v1h-3zM802 523h3v1h-3zM806 521h3v3h-3zM810 520h3v4h-3zM814 520h3v4h-3zM818 521h3v3h-3zM822 521h3v3h-3zM826 521h3v3h-3zM830 520h3v4h-3zM834 519h3v5h-3zM838 519h3v5h-3zM842 517h3v7h-3zM846 515h3v9h-3zM850 515h3v9h-3zM854 517h3v7h-3zM858 519h3v5h-3zM862 520h3v4h-3zM866 521h3v3h-3zM870 524h3v1h-3zM874 524h3v3h-3zM878 524h3v4h-3zM882 524h3v7h-3zM886 524h3v8h-3zM890 524h3v11h-3zM894 524h3v13h-3zM898 524h3v14h-3zM902 524h3v14h-3zM906 524h3v12h-3zM910 524h3v11h-3zM914 524h3v11h-3zM918 524h3v12h-3zM922 524h3v13h-3z" fill="#c0c0c0"/><path d="M374 494h13v1h-13zM371 495h3v1h-3zM387 495h6v1h-6zM369 496h2v1h-2zM393 496h4v1h-4zM366 497h3v1h-3zM397 497h3v1h-3zM364 498h2v1h-2zM400 498h2v1h-2zM362 499h2v1h-2zM402 499h2v1h-2zM360 500h2v1h-2zM404 500h2v1h-2zM358 501h2v1h-2zM406 501h2v1h-2zM675 501h8v1h-8zM355 502h3v1h-3zM408 502h2v1h-2zM670 502h5v1h-5zM683 502h30v1h-30zM301 503h12v1h-12zM353 503h2v1h-2zM410 503h1v1h-1zM668 503h2v1h-2zM713 503h4v1h-4zM298 504h3v1h-3zM313 504h5v1h-5zM349 504h4v1h-4zM411 504h2v1h-2zM666 504h2v1h-2zM717 504h6v1h-6zM296 505h2v1h-2zM318 505h4v1h-4zM345 505h4v1h-4zM413 505h2v1h-2zM664 505h2v1h-2zM723 505h6v1h-6zM293 506h3v1h-3zM322 506h4v1h-4zM341 506h4v1h-4zM415 506h1v1h-1zM662 506h2v1h-2zM729 506h4v1h-4zM290 507h3v1h-3zM326 507h6v1h-6zM337 507h4v1h-4zM416 507h2v1h-2zM661 507h1v1h-1zM733 507h4v1h-4zM288 508h2v1h-2zM332 508h5v1h-5zM418 508h1v1h-1zM659 508h2v1h-2zM737 508h4v1h-4zM286 509h2v1h-2zM419 509h2v1h-2zM658 509h1v1h-1zM741 509h4v1h-4zM284 510h2v1h-2zM421 510h2v1h-2zM656 510h2v1h-2zM745 510h3v1h-3zM283 511h1v1h-1zM423 511h1v1h-1zM655 511h1v1h-1zM748 511h4v1h-4zM282 512h1v1h-1zM424 512h1v1h-1zM654 512h1v1h-1zM752 512h22v1h-22zM280 513h2v1h-2zM425 513h2v1h-2zM653 513h1v1h-1zM774 513h6v1h-6zM279 514h1v1h-1zM427 514h1v1h-1zM653 514h1v1h-1zM780 514h4v1h-4zM278 515h1v1h-1zM428 515h1v1h-1zM652 515h1v1h-1zM784 515h4v1h-4zM276 516h2v1h-2zM429 516h2v1h-2zM651 516h1v1h-1zM788 516h2v1h-2zM274 517h2v1h-2zM431 517h1v1h-1zM650 517h1v1h-1zM790 517h3v1h-3zM273 518h1v1h-1zM432 518h1v1h-1zM649 518h1v1h-1zM793 518h3v1h-3zM852 518h21v1h-21zM271 519h2v1h-2zM433 519h1v1h-1zM648 519h1v1h-1zM796 519h4v1h-4zM847 519h5v1h-5zM873 519h4v1h-4zM269 520h2v1h-2zM434 520h1v1h-1zM648 520h1v1h-1zM800 520h4v1h-4zM843 520h4v1h-4zM877 520h4v1h-4zM266 521h3v1h-3zM435 521h1v1h-1zM647 521h1v1h-1zM804 521h4v1h-4zM829 521h14v1h-14zM881 521h2v1h-2zM264 522h2v1h-2zM436 522h1v1h-1zM646 522h1v1h-1zM808 522h21v1h-21zM883 522h2v1h-2zM261 523h3v1h-3zM437 523h1v1h-1zM645 523h1v1h-1zM885 523h2v1h-2zM259 524h2v1h-2zM438 524h1v1h-1zM644 524h1v1h-1zM887 524h2v1h-2zM257 525h2v1h-2zM439 525h1v1h-1zM644 525h1v1h-1zM889 525h2v1h-2zM255 526h2v1h-2zM440 526h1v1h-1zM643 526h1v1h-1zM891 526h2v1h-2zM254 527h1v1h-1zM441 527h2v1h-2zM642 527h1v1h-1zM893 527h2v1h-2zM252 528h2v1h-2zM443 528h1v1h-1zM641 528h1v1h-1zM895 528h2v1h-2zM251 529h1v1h-1zM444 529h1v1h-1zM641 529h1v1h-1zM897 529h2v1h-2zM250 530h1v1h-1zM445 530h2v1h-2zM640 530h1v1h-1zM899 530h2v1h-2zM248 531h2v1h-2zM447 531h1v1h-1zM639 531h1v1h-1zM901 531h3v1h-3zM247 532h1v1h-1zM448 532h1v1h-1zM638 532h1v1h-1zM904 532h3v1h-3zM246 533h1v1h-1zM449 533h2v1h-2zM637 533h1v1h-1zM907 533h3v1h-3zM244 534h2v1h-2zM451 534h1v1h-1zM636 534h1v1h-1zM910 534h2v1h-2zM154 535h25v1h-25zM243 535h1v1h-1zM452 535h1v1h-1zM635 535h1v1h-1zM912 535h11v1h-11zM146 536h8v1h-8zM179 536h4v1h-4zM242 536h1v1h-1zM453 536h2v1h-2zM634 536h1v1h-1zM923 536h1v1h-1zM142 537h4v1h-4zM183 537h6v1h-6zM240 537h2v1h-2zM455 537h1v1h-1zM633 537h1v1h-1zM923 537h1v1h-1zM139 538h3v1h-3zM189 538h6v1h-6zM239 538h1v1h-1zM456 538h2v1h-2zM631 538h2v1h-2zM137 539h2v1h-2zM195 539h2v1h-2zM237 539h2v1h-2zM458 539h1v1h-1zM630 539h1v1h-1zM135 540h2v1h-2zM197 540h3v1h-3zM235 540h2v1h-2zM459 540h2v1h-2zM629 540h1v1h-1zM133 541h2v1h-2zM200 541h3v1h-3zM234 541h1v1h-1zM461 541h2v1h-2zM627 541h2v1h-2zM131 542h2v1h-2zM203 542h2v1h-2zM232 542h2v1h-2zM463 542h2v1h-2zM626 542h1v1h-1zM129 543h2v1h-2zM205 543h3v1h-3zM230 543h2v1h-2zM465 543h2v1h-2zM624 543h2v1h-2zM51 544h11v1h-11zM127 544h2v1h-2zM208 544h3v1h-3zM227 544h3v1h-3zM467 544h3v1h-3zM622 544h2v1h-2zM43 545h8v1h-8zM62 545h2v1h-2zM125 545h2v1h-2zM211 545h2v1h-2zM225 545h2v1h-2zM470 545h5v1h-5zM620 545h2v1h-2zM38 546h5v1h-5zM64 546h2v1h-2zM123 546h2v1h-2zM213 546h3v1h-3zM220 546h5v1h-5zM475 546h8v1h-8zM618 546h2v1h-2zM36 547h2v1h-2zM66 547h2v1h-2zM121 547h2v1h-2zM216 547h4v1h-4zM483 547h6v1h-6zM617 547h1v1h-1zM33 548h3v1h-3zM68 548h2v1h-2zM119 548h2v1h-2zM489 548h2v1h-2zM615 548h2v1h-2zM30 549h3v1h-3zM70 549h2v1h-2zM117 549h2v1h-2zM491 549h3v1h-3zM613 549h2v1h-2zM28 550h2v1h-2zM72 550h2v1h-2zM115 550h2v1h-2zM494 550h3v1h-3zM541 550h14v1h-14zM612 550h1v1h-1zM25 551h3v1h-3zM74 551h2v1h-2zM113 551h2v1h-2zM497 551h4v1h-4zM536 551h5v1h-5zM555 551h2v1h-2zM610 551h2v1h-2zM22 552h3v1h-3zM76 552h3v1h-3zM111 552h2v1h-2zM501 552h6v1h-6zM534 552h2v1h-2zM557 552h3v1h-3zM609 552h1v1h-1zM18 553h4v1h-4zM79 553h2v1h-2zM109 553h2v1h-2zM507 553h6v1h-6zM531 553h3v1h-3zM560 553h3v1h-3zM607 553h2v1h-2zM15 554h3v1h-3zM81 554h3v1h-3zM107 554h2v1h-2zM513 554h4v1h-4zM529 554h2v1h-2zM563 554h2v1h-2zM605 554h2v1h-2zM13 555h2v1h-2zM84 555h3v1h-3zM105 555h2v1h-2zM517 555h12v1h-12zM565 555h3v1h-3zM604 555h1v1h-1zM11 556h2v1h-2zM87 556h4v1h-4zM102 556h3v1h-3zM568 556h3v1h-3zM602 556h2v1h-2zM9 557h2v1h-2zM91 557h11v1h-11zM571 557h2v1h-2zM600 557h2v1h-2zM7 558h2v1h-2zM573 558h3v1h-3zM597 558h3v1h-3zM5 559h2v1h-2zM576 559h5v1h-5zM595 559h2v1h-2zM3 560h2v1h-2zM581 560h14v1h-14zM2 561h1v1h-1z" fill="#ff0000"/></g><line x1="3" y1="598.5" x2="1165" y2="598.5" stroke="#c0c0c0" stroke-dasharray="3,3"/><line x1="3" y1="632.5" x2="1165" y2="632.5" stroke="#c0c0c0" stroke-dasharray="3,3"/><path d="M351 598h5v1h-5zM642 598h2v1h-2zM279 599h1v1h-1zM350 599h1v1h-1zM356 599h1v1h-1zM640 599h2v1h-2zM644 599h1v1h-1zM278 600h1v1h-1zM280 600h1v1h-1zM350 600h1v1h-1zM357 600h1v1h-1zM362 600h7v1h-7zM639 600h1v1h-1zM645 600h1v1h-1zM277 601h1v1h-1zM280 601h1v1h-1zM339 601h1v1h-1zM349 601h1v1h-1zM358 601h1v1h-1zM360 601h2v1h-2zM369 601h3v1h-3zM637 601h2v1h-2zM646 601h1v1h-1zM763 601h1v1h-1zM276 602h1v1h-1zM281 602h1v1h-1zM338 602h1v1h-1zM340 602h1v1h-1zM348 602h1v1h-1zM359 602h1v1h-1zM372 602h1v1h-1zM636 602h1v1h-1zM647 602h5v1h-5zM699 602h1v1h-1zM763 602h2v1h-2zM270 603h2v1h-2zM275 603h1v1h-1zM281 603h1v1h-1zM338 603h1v1h-1zM341 603h2v1h-2zM348 603h1v1h-1zM372 603h1v1h-1zM627 603h9v1h-9zM652 603h1v1h-1zM677 603h4v1h-4zM698 603h1v1h-1zM700 603h1v1h-1zM762 603h1v1h-1zM764 603h1v1h-1zM270 604h1v1h-1zM272 604h3v1h-3zM282 604h1v1h-1zM337 604h1v1h-1zM343 604h5v1h-5zM373 604h1v1h-1zM627 604h1v1h-1zM653 604h1v1h-1zM674 604h3v1h-3zM681 604h3v1h-3zM691 604h1v1h-1zM697 604h1v1h-1zM701 604h1v1h-1zM762 604h1v1h-1zM765 604h1v1h-1zM269 605h1v1h-1zM282 605h1v1h-1zM336 605h1v1h-1zM374 605h1v1h-1zM627 605h1v1h-1zM653 605h1v1h-1zM672 605h2v1h-2zM684 605h1v1h-1zM690 605h1v1h-1zM692 605h1v1h-1zM697 605h1v1h-1zM702 605h1v1h-1zM761 605h1v1h-1zM765 605h1v1h-1zM269 606h1v1h-1zM283 606h1v1h-1zM336 606h1v1h-1zM374 606h1v1h-1zM626 606h1v1h-1zM654 606h1v1h-1zM666 606h6v1h-6zM685 606h1v1h-1zM689 606h1v1h-1zM693 606h2v1h-2zM696 606h1v1h-1zM703 606h2v1h-2zM761 606h1v1h-1zM766 606h1v1h-1zM846 606h2v1h-2zM250 607h1v1h-1zM268 607h1v1h-1zM284 607h2v1h-2zM334 607h2v1h-2zM375 607h1v1h-1zM387 607h6v1h-6zM626 607h1v1h-1zM655 607h6v1h-6zM664 607h2v1h-2zM685 607h1v1h-1zM689 607h1v1h-1zM695 607h1v1h-1zM705 607h3v1h-3zM736 607h2v1h-2zM760 607h1v1h-1zM766 607h1v1h-1zM844 607h2v1h-2zM848 607h2v1h-2zM248 608h2v1h-2zM251 608h1v1h-1zM268 608h1v1h-1zM286 608h2v1h-2zM320 608h1v1h-1zM332 608h2v1h-2zM376 608h1v1h-1zM385 608h2v1h-2zM393 608h3v1h-3zM626 608h1v1h-1zM661 608h3v1h-3zM686 608h1v1h-1zM688 608h1v1h-1zM708 608h2v1h-2zM727 608h1v1h-1zM735 608h1v1h-1zM738 608h2v1h-2zM760 608h1v1h-1zM767 608h1v1h-1zM835 608h1v1h-1zM843 608h1v1h-1zM850 608h2v1h-2zM247 609h1v1h-1zM251 609h1v1h-1zM267 609h1v1h-1zM288 609h1v1h-1zM318 609h2v1h-2zM321 609h2v1h-2zM331 609h1v1h-1zM376 609h1v1h-1zM383 609h2v1h-2zM396 609h2v1h-2zM626 609h1v1h-1zM687 609h1v1h-1zM710 609h2v1h-2zM726 609h1v1h-1zM728 609h1v1h-1zM733 609h2v1h-2zM740 609h1v1h-1zM759 609h1v1h-1zM767 609h1v1h-1zM834 609h1v1h-1zM836 609h1v1h-1zM842 609h1v1h-1zM852 609h1v1h-1zM231 610h1v1h-1zM246 610h1v1h-1zM252 610h1v1h-1zM267 610h1v1h-1zM288 610h1v1h-1zM309 610h4v1h-4zM316 610h2v1h-2zM323 610h1v1h-1zM329 610h2v1h-2zM377 610h1v1h-1zM382 610h1v1h-1zM398 610h2v1h-2zM625 610h1v1h-1zM712 610h1v1h-1zM726 610h1v1h-1zM729 610h2v1h-2zM732 610h1v1h-1zM740 610h1v1h-1zM750 610h2v1h-2zM758 610h2v1h-2zM768 610h1v1h-1zM834 610h1v1h-1zM837 610h1v1h-1zM841 610h1v1h-1zM852 610h1v1h-1zM219 611h1v1h-1zM229 611h2v1h-2zM232 611h2v1h-2zM245 611h1v1h-1zM253 611h1v1h-1zM257 611h2v1h-2zM266 611h1v1h-1zM289 611h1v1h-1zM295 611h2v1h-2zM305 611h4v1h-4zM313 611h3v1h-3zM324 611h2v1h-2zM328 611h1v1h-1zM377 611h1v1h-1zM380 611h2v1h-2zM400 611h1v1h-1zM625 611h1v1h-1zM713 611h1v1h-1zM725 611h1v1h-1zM731 611h1v1h-1zM741 611h1v1h-1zM748 611h2v1h-2zM752 611h2v1h-2zM756 611h2v1h-2zM768 611h1v1h-1zM806 611h6v1h-6zM833 611h1v1h-1zM838 611h1v1h-1zM840 611h1v1h-1zM853 611h1v1h-1zM218 612h1v1h-1zM220 612h1v1h-1zM228 612h1v1h-1zM234 612h2v1h-2zM244 612h1v1h-1zM253 612h1v1h-1zM255 612h2v1h-2zM259 612h2v1h-2zM264 612h3v1h-3zM290 612h1v1h-1zM293 612h2v1h-2zM297 612h8v1h-8zM326 612h2v1h-2zM378 612h2v1h-2zM401 612h2v1h-2zM625 612h1v1h-1zM714 612h1v1h-1zM725 612h1v1h-1zM741 612h1v1h-1zM747 612h1v1h-1zM754 612h2v1h-2zM769 612h1v1h-1zM799 612h2v1h-2zM804 612h2v1h-2zM812 612h1v1h-1zM833 612h1v1h-1zM839 612h1v1h-1zM854 612h1v1h-1zM129 613h3v1h-3zM217 613h1v1h-1zM221 613h2v1h-2zM225 613h3v1h-3zM236 613h1v1h-1zM242 613h2v1h-2zM254 613h1v1h-1zM261 613h3v1h-3zM290 613h1v1h-1zM292 613h1v1h-1zM378 613h1v1h-1zM403 613h1v1h-1zM625 613h1v1h-1zM715 613h2v1h-2zM724 613h1v1h-1zM742 613h1v1h-1zM746 613h1v1h-1zM769 613h1v1h-1zM798 613h1v1h-1zM801 613h3v1h-3zM813 613h2v1h-2zM832 613h1v1h-1zM854 613h1v1h-1zM111 614h1v1h-1zM127 614h2v1h-2zM132 614h2v1h-2zM143 614h1v1h-1zM216 614h1v1h-1zM223 614h2v1h-2zM237 614h2v1h-2zM240 614h2v1h-2zM291 614h1v1h-1zM404 614h1v1h-1zM617 614h3v1h-3zM624 614h1v1h-1zM717 614h4v1h-4zM724 614h1v1h-1zM742 614h1v1h-1zM745 614h1v1h-1zM769 614h1v1h-1zM798 614h1v1h-1zM815 614h10v1h-10zM832 614h1v1h-1zM855 614h1v1h-1zM110 615h1v1h-1zM112 615h1v1h-1zM126 615h1v1h-1zM134 615h2v1h-2zM142 615h1v1h-1zM144 615h1v1h-1zM215 615h1v1h-1zM239 615h1v1h-1zM404 615h1v1h-1zM615 615h2v1h-2zM620 615h1v1h-1zM624 615h1v1h-1zM721 615h3v1h-3zM743 615h2v1h-2zM770 615h1v1h-1zM797 615h1v1h-1zM825 615h7v1h-7zM856 615h1v1h-1zM867 615h1v1h-1zM109 616h1v1h-1zM113 616h1v1h-1zM126 616h1v1h-1zM136 616h1v1h-1zM142 616h1v1h-1zM145 616h1v1h-1zM159 616h1v1h-1zM171 616h1v1h-1zM214 616h1v1h-1zM405 616h1v1h-1zM614 616h1v1h-1zM621 616h1v1h-1zM624 616h1v1h-1zM743 616h1v1h-1zM770 616h1v1h-1zM797 616h1v1h-1zM857 616h1v1h-1zM865 616h2v1h-2zM868 616h1v1h-1zM21 617h2v1h-2zM39 617h1v1h-1zM108 617h1v1h-1zM113 617h1v1h-1zM125 617h1v1h-1zM137 617h1v1h-1zM141 617h1v1h-1zM145 617h1v1h-1zM158 617h1v1h-1zM160 617h1v1h-1zM169 617h2v1h-2zM172 617h1v1h-1zM214 617h1v1h-1zM406 617h1v1h-1zM613 617h1v1h-1zM621 617h1v1h-1zM624 617h1v1h-1zM771 617h1v1h-1zM773 617h16v1h-16zM796 617h1v1h-1zM858 617h1v1h-1zM864 617h1v1h-1zM869 617h1v1h-1zM19 618h2v1h-2zM23 618h2v1h-2zM38 618h1v1h-1zM40 618h1v1h-1zM103 618h5v1h-5zM114 618h1v1h-1zM125 618h1v1h-1zM137 618h1v1h-1zM140 618h1v1h-1zM146 618h1v1h-1zM158 618h1v1h-1zM161 618h2v1h-2zM168 618h1v1h-1zM173 618h2v1h-2zM213 618h1v1h-1zM406 618h1v1h-1zM607 618h1v1h-1zM613 618h1v1h-1zM622 618h2v1h-2zM771 618h2v1h-2zM789 618h4v1h-4zM796 618h1v1h-1zM859 618h5v1h-5zM869 618h1v1h-1zM906 618h5v1h-5zM18 619h1v1h-1zM25 619h2v1h-2zM38 619h1v1h-1zM41 619h1v1h-1zM101 619h2v1h-2zM115 619h1v1h-1zM124 619h1v1h-1zM138 619h1v1h-1zM140 619h1v1h-1zM147 619h1v1h-1zM157 619h1v1h-1zM163 619h5v1h-5zM175 619h5v1h-5zM213 619h1v1h-1zM407 619h6v1h-6zM417 619h3v1h-3zM595 619h1v1h-1zM606 619h1v1h-1zM608 619h2v1h-2zM612 619h1v1h-1zM623 619h1v1h-1zM793 619h3v1h-3zM870 619h1v1h-1zM905 619h1v1h-1zM911 619h1v1h-1zM17 620h1v1h-1zM27 620h1v1h-1zM37 620h1v1h-1zM42 620h1v1h-1zM100 620h1v1h-1zM116 620h1v1h-1zM124 620h1v1h-1zM139 620h1v1h-1zM148 620h1v1h-1zM156 620h1v1h-1zM180 620h1v1h-1zM212 620h1v1h-1zM413 620h4v1h-4zM420 620h1v1h-1zM503 620h1v1h-1zM594 620h1v1h-1zM596 620h1v1h-1zM605 620h1v1h-1zM610 620h2v1h-2zM871 620h2v1h-2zM877 620h3v1h-3zM904 620h1v1h-1zM912 620h2v1h-2zM16 621h1v1h-1zM28 621h1v1h-1zM36 621h1v1h-1zM43 621h1v1h-1zM87 621h1v1h-1zM98 621h2v1h-2zM117 621h1v1h-1zM122 621h2v1h-2zM149 621h1v1h-1zM156 621h1v1h-1zM181 621h2v1h-2zM212 621h1v1h-1zM421 621h1v1h-1zM503 621h3v1h-3zM537 621h2v1h-2zM579 621h1v1h-1zM592 621h2v1h-2zM597 621h1v1h-1zM604 621h1v1h-1zM873 621h4v1h-4zM880 621h2v1h-2zM903 621h1v1h-1zM914 621h1v1h-1zM16 622h1v1h-1zM29 622h1v1h-1zM36 622h1v1h-1zM44 622h1v1h-1zM85 622h2v1h-2zM88 622h1v1h-1zM96 622h2v1h-2zM118 622h1v1h-1zM120 622h2v1h-2zM149 622h1v1h-1zM154 622h2v1h-2zM183 622h1v1h-1zM211 622h1v1h-1zM422 622h1v1h-1zM475 622h5v1h-5zM502 622h1v1h-1zM506 622h2v1h-2zM518 622h2v1h-2zM534 622h3v1h-3zM539 622h1v1h-1zM578 622h1v1h-1zM580 622h2v1h-2zM591 622h1v1h-1zM598 622h1v1h-1zM601 622h3v1h-3zM882 622h2v1h-2zM902 622h1v1h-1zM915 622h1v1h-1zM15 623h1v1h-1zM29 623h1v1h-1zM34 623h2v1h-2zM45 623h1v1h-1zM84 623h1v1h-1zM89 623h1v1h-1zM94 623h2v1h-2zM119 623h1v1h-1zM150 623h1v1h-1zM152 623h2v1h-2zM184 623h1v1h-1zM210 623h1v1h-1zM423 623h1v1h-1zM475 623h1v1h-1zM480 623h1v1h-1zM502 623h1v1h-1zM508 623h2v1h-2zM516 623h2v1h-2zM520 623h1v1h-1zM532 623h2v1h-2zM540 623h1v1h-1zM578 623h1v1h-1zM582 623h9v1h-9zM599 623h2v1h-2zM884 623h1v1h-1zM901 623h1v1h-1zM916 623h2v1h-2zM922 623h1v1h-1zM14 624h1v1h-1zM30 624h1v1h-1zM32 624h2v1h-2zM45 624h1v1h-1zM83 624h1v1h-1zM90 624h1v1h-1zM92 624h2v1h-2zM151 624h1v1h-1zM185 624h1v1h-1zM190 624h2v1h-2zM210 624h1v1h-1zM424 624h1v1h-1zM474 624h1v1h-1zM480 624h1v1h-1zM501 624h1v1h-1zM510 624h6v1h-6zM521 624h1v1h-1zM529 624h3v1h-3zM541 624h1v1h-1zM577 624h1v1h-1zM885 624h1v1h-1zM901 624h1v1h-1zM918 624h1v1h-1zM920 624h2v1h-2zM12 625h2v1h-2zM31 625h1v1h-1zM46 625h1v1h-1zM75 625h1v1h-1zM82 625h1v1h-1zM91 625h1v1h-1zM186 625h1v1h-1zM188 625h2v1h-2zM192 625h2v1h-2zM197 625h7v1h-7zM209 625h1v1h-1zM425 625h2v1h-2zM474 625h1v1h-1zM481 625h1v1h-1zM501 625h1v1h-1zM521 625h1v1h-1zM526 625h3v1h-3zM541 625h1v1h-1zM577 625h1v1h-1zM886 625h2v1h-2zM900 625h1v1h-1zM919 625h1v1h-1zM11 626h1v1h-1zM47 626h2v1h-2zM53 626h6v1h-6zM74 626h1v1h-1zM76 626h1v1h-1zM81 626h1v1h-1zM187 626h1v1h-1zM194 626h3v1h-3zM204 626h1v1h-1zM208 626h1v1h-1zM427 626h1v1h-1zM473 626h1v1h-1zM481 626h1v1h-1zM501 626h1v1h-1zM522 626h1v1h-1zM524 626h2v1h-2zM542 626h1v1h-1zM576 626h1v1h-1zM888 626h3v1h-3zM899 626h1v1h-1zM5 627h6v1h-6zM49 627h4v1h-4zM59 627h1v1h-1zM74 627h1v1h-1zM77 627h2v1h-2zM80 627h1v1h-1zM205 627h2v1h-2zM208 627h1v1h-1zM428 627h1v1h-1zM473 627h1v1h-1zM482 627h1v1h-1zM500 627h1v1h-1zM523 627h1v1h-1zM543 627h1v1h-1zM575 627h1v1h-1zM891 627h2v1h-2zM899 627h1v1h-1zM3 628h2v1h-2zM59 628h1v1h-1zM73 628h1v1h-1zM79 628h1v1h-1zM207 628h1v1h-1zM429 628h2v1h-2zM472 628h1v1h-1zM482 628h1v1h-1zM500 628h1v1h-1zM544 628h2v1h-2zM570 628h2v1h-2zM575 628h1v1h-1zM893 628h6v1h-6zM2 629h1v1h-1zM60 629h1v1h-1zM72 629h1v1h-1zM431 629h13v1h-13zM472 629h1v1h-1zM483 629h1v1h-1zM499 629h1v1h-1zM546 629h2v1h-2zM569 629h1v1h-1zM572 629h3v1h-3zM60 630h1v1h-1zM72 630h1v1h-1zM444 630h1v1h-1zM466 630h6v1h-6zM483 630h1v1h-1zM499 630h1v1h-1zM548 630h1v1h-1zM568 630h1v1h-1zM61 631h1v1h-1zM71 631h1v1h-1zM445 631h1v1h-1zM450 631h3v1h-3zM464 631h2v1h-2zM484 631h1v1h-1zM498 631h1v1h-1zM549 631h2v1h-2zM568 631h1v1h-1zM61 632h1v1h-1zM70 632h1v1h-1zM446 632h1v1h-1zM448 632h2v1h-2zM453 632h3v1h-3zM462 632h2v1h-2zM484 632h1v1h-1zM498 632h1v1h-1zM551 632h1v1h-1zM567 632h1v1h-1zM62 633h1v1h-1zM69 633h1v1h-1zM447 633h1v1h-1zM456 633h2v1h-2zM460 633h2v1h-2zM485 633h1v1h-1zM497 633h1v1h-1zM552 633h1v1h-1zM566 633h1v1h-1zM63 634h2v1h-2zM69 634h1v1h-1zM458 634h2v1h-2zM485 634h1v1h-1zM497 634h1v1h-1zM553 634h2v1h-2zM565 634h1v1h-1zM65 635h2v1h-2zM68 635h1v1h-1zM486 635h1v1h-1zM496 635h1v1h-1zM555 635h2v1h-2zM565 635h1v1h-1zM67 636h1v1h-1zM486 636h1v1h-1zM496 636h1v1h-1zM557 636h4v1h-4zM564 636h1v1h-1zM487 637h1v1h-1zM495 637h1v1h-1zM561 637h3v1h-3zM487 638h6v1h-6zM495 638h1v1h-1zM493 639h2v1h-2z" fill="#1e90ff"/><rect x="2.5" y="23.5" width="1163" height="460" fill="none" stroke="#000"/><rect x="2.5" y="485.5" width="1163" height="84" fill="none" stroke="#000"/><rect x="2.5" y="571.5" width="1163" height="87" fill="none" stroke="#000"/><rect x="2" y="289" width="6" height="6" fill="#00ff00"/><rect x="4" y="291" width="2" height="2" fill="#fff"/><rect x="1159" y="289" width="6" height="6" fill="#00ff00"/><rect x="1161" y="291" width="2" height="2" fill="#fff"/><rect x="2" y="380" width="6" height="6" fill="#0000ff"/><rect x="4" y="382" width="2" height="2" fill="#fff"/><rect x="1159" y="380" width="6" height="6" fill="#0000ff"/><rect x="1161" y="382" width="2" height="2" fill="#fff"/><rect x="1166" y="84" width="2" height="1" fill="#000"/><text x="1171" y="88" fill="#000" textLength="33" lengthAdjust="spacingAndGlyphs" text-anchor="start">6.56550</text><rect x="1166" y="117" width="2" height="1" fill="#000"/><text x="1171" y="121" fill="#000" textLength="33" lengthAdjust="spacingAndGlyphs" text-anchor="start">6.54750</text><rect x="1166" y="150" width="2" height="1" fill="#000"/><text x="1171" y="154" fill="#000" textLength="33" lengthAdjust="spacingAndGlyphs" text-anchor="start">6.52900</text><rect x="1166" y="183" width="2" height="1" fill="#000"/><text x="1171" y="187" fill="#000" textLength="33" lengthAdjust="spacingAndGlyphs" text-anchor="start">6.51100</text><rect x="1166" y="216" width="2" height="1" fill="#000"/><text x="1171" y="220" fill="#000" textLength="33" lengthAdjust="spacingAndGlyphs" text-anchor="start">6.49250</text><rect x="1166" y="249" width="2" height="1" fill="#000"/><text x="1171" y="253" fill="#000" textLength="33" lengthAdjust="spacingAndGlyphs" text-anchor="start">6.47450</text><rect x="1166" y="282" width="2" height="1" fill="#000"/><text x="1171" y="286" fill="#000" textLength="33" lengthAdjust="spacingAndGlyphs" text-anchor="start">6.45600</text><rect x="1166" y="315" width="2" height="1" fill="#000"/><text x="1171" y="319" fill="#000" textLength="33" lengthAdjust="spacingAndGlyphs" text-anchor="start">6.43800</text><rect x="1166" y="348" width="2" height="1" fill="#000"/><text x="1171" y="352" fill="#000" textLength="33" lengthAdjust="spacingAndGlyphs" text-anchor="start">6.41950</text><rect x="1166" y="414" width="2" height="1" fill="#000"/><text x="1171" y="418" fill="#000" textLength="33" lengthAdjust="spacingAndGlyphs" text-anchor="start">6.38350</text><rect x="1166" y="447" width="2" height="1" fill="#000"/><text x="1171" y="451" fill="#000" textLength="33" lengthAdjust="spacingAndGlyphs" text-anchor="start">6.36500</text><rect x="1166" y="480" width="2" height="1" fill="#000"/><text x="1171" y="484" fill="#000" textLength="33" lengthAdjust="spacingAndGlyphs" text-anchor="start">6.34700</text><rect x="1166" y="51" width="2" height="1" fill="#000"/><text x="1171" y="55" fill="#000" textLength="33" lengthAdjust="spacingAndGlyphs" text-anchor="start">6.58350</text><rect x="1167" y="43" width="38" height="11" fill="#ff0000"/><text x="1171" y="52" fill="#fff" textLength="33" lengthAdjust="spacingAndGlyphs" text-anchor="start">6.58514</text><rect x="1167" y="168" width="38" height="11" fill="#ff0000"/><text x="1171" y="177" fill="#fff" textLength="33" lengthAdjust="spacingAndGlyphs" text-anchor="start">6.51605</text><rect x="1167" y="286" width="38" height="11" fill="#00ff00"/><text x="1171" y="295" fill="#fff" textLength="33" lengthAdjust="spacingAndGlyphs" text-anchor="start">6.45060</text><rect x="1167" y="305" width="38" height="11" fill="#000"/><text x="1171" y="314" fill="#fff" textLength="33" lengthAdjust="spacingAndGlyphs" text-anchor="start">6.44099</text><rect x="1167" y="377" width="38" height="11" fill="#0000ff"/><text x="1171" y="386" fill="#fff" textLength="33" lengthAdjust="spacingAndGlyphs" text-anchor="start">6.40042</text><rect x="1167" y="468" width="38" height="11" fill="#0000ff"/><text x="1171" y="477" fill="#fff" textLength="33" lengthAdjust="spacingAndGlyphs" text-anchor="start">6.35025</text><text x="1170" y="496" fill="#000" textLength="38" lengthAdjust="spacingAndGlyphs" text-anchor="start">0.025108</text><rect x="1166" y="524" width="2" height="1" fill="#000"/><text x="1170" y="528" fill="#000" textLength="18" lengthAdjust="spacingAndGlyphs" text-anchor="start">0.00</text><text x="1170" y="566" fill="#000" textLength="41" lengthAdjust="spacingAndGlyphs" text-anchor="start">-0.029887</text><rect x="1166" y="568" width="2" height="1" fill="#000"/><rect x="1166" y="573" width="2" height="1" fill="#000"/><text x="1170" y="582" fill="#000" textLength="14" lengthAdjust="spacingAndGlyphs" text-anchor="start">100</text><text x="1170" y="602" fill="#000" textLength="10" lengthAdjust="spacingAndGlyphs" text-anchor="start">70</text><text x="1170" y="636" fill="#000" textLength="10" lengthAdjust="spacingAndGlyphs" text-anchor="start">30</text><text x="1170" y="655" fill="#000" textLength="5" lengthAdjust="spacingAndGlyphs" text-anchor="start">0</text><text x="18.5" y="35" fill="#000" textLength="65" lengthAdjust="spacingAndGlyphs" text-anchor="start">USDCNH,Daily</text><text x="90" y="35" fill="#000" textLength="141" lengthAdjust="spacingAndGlyphs" text-anchor="start">6.43837 6.44179 6.43606 6.44099</text><path d="M6 34.5 L9.5 30.5 L13 34.5z" fill="#000" shape-rendering="auto"/><text x="7" y="497" fill="#000" textLength="154" lengthAdjust="spacingAndGlyphs" text-anchor="start">MACD(12,26,9) -0.008491 -0.007996</text><text x="7" y="584" fill="#000" textLength="68" lengthAdjust="spacingAndGlyphs" text-anchor="start">RSI(14) 40.1159</text><rect x="3" y="659" width="1" height="3" fill="#000"/><text x="3" y="670.3" fill="#000" textLength="51.0" lengthAdjust="spacingAndGlyphs" text-anchor="start">16 Dec 2020</text><rect x="67" y="659" width="1" height="3" fill="#000"/><text x="66.5" y="670.3" fill="#000" textLength="44.5" lengthAdjust="spacingAndGlyphs" text-anchor="start">5 Jan 2021</text><rect x="131" y="659" width="1" height="3" fill="#000"/><text x="130.5" y="670.3" fill="#000" textLength="49.5" lengthAdjust="spacingAndGlyphs" text-anchor="start">23 Jan 2021</text><rect x="195" y="659" width="1" height="3" fill="#000"/><text x="194.5" y="670.3" fill="#000" textLength="49.9" lengthAdjust="spacingAndGlyphs" text-anchor="start">11 Feb 2021</text><rect x="259" y="659" width="1" height="3" fill="#000"/><text x="258.5" y="670.3" fill="#000" textLength="45.5" lengthAdjust="spacingAndGlyphs" text-anchor="start">2 Mar 2021</text><rect x="323" y="659" width="1" height="3" fill="#000"/><text x="322.5" y="670.3" fill="#000" textLength="50.5" lengthAdjust="spacingAndGlyphs" text-anchor="start">20 Mar 2021</text><rect x="387" y="659" width="1" height="3" fill="#000"/><text x="386.5" y="670.3" fill="#000" textLength="43.5" lengthAdjust="spacingAndGlyphs" text-anchor="start">8 Apr 2021</text><rect x="451" y="659" width="1" height="3" fill="#000"/><text x="450.5" y="670.3" fill="#000" textLength="48.5" lengthAdjust="spacingAndGlyphs" text-anchor="start">27 Apr 2021</text><rect x="515" y="659" width="1" height="3" fill="#000"/><text x="514.5" y="670.3" fill="#000" textLength="52.0" lengthAdjust="spacingAndGlyphs" text-anchor="start">15 May 2021</text><rect x="579" y="659" width="1" height="3" fill="#000"/><text x="578.5" y="670.3" fill="#000" textLength="44.5" lengthAdjust="spacingAndGlyphs" text-anchor="start">3 Jun 2021</text><rect x="643" y="659" width="1" height="3" fill="#000"/><text x="642.5" y="670.3" fill="#000" textLength="49.5" lengthAdjust="spacingAndGlyphs" text-anchor="start">22 Jun 2021</text><rect x="707" y="659" width="1" height="3" fill="#000"/><text x="706.5" y="670.3" fill="#000" textLength="46.5" lengthAdjust="spacingAndGlyphs" text-anchor="start">10 Jul 2021</text><rect x="771" y="659" width="1" height="3" fill="#000"/><text x="770.5" y="670.3" fill="#000" textLength="46.5" lengthAdjust="spacingAndGlyphs" text-anchor="start">29 Jul 2021</text><rect x="835" y="659" width="1" height="3" fill="#000"/><text x="834.5" y="670.3" fill="#000" textLength="50.5" lengthAdjust="spacingAndGlyphs" text-anchor="start">17 Aug 2021</text><rect x="899" y="659" width="1" height="3" fill="#000"/><text x="898.5" y="670.3" fill="#000" textLength="46.0" lengthAdjust="spacingAndGlyphs" text-anchor="start">4 Sep 2021</text><text x="-1.9" y="11" fill="#3c3c3c" textLength="5.3" lengthAdjust="spacingAndGlyphs" text-anchor="start">5</text><text x="14.2" y="11" fill="#3c3c3c" textLength="18.6" lengthAdjust="spacingAndGlyphs" text-anchor="start">M30</text><text x="45.2" y="11" fill="#3c3c3c" textLength="12.5" lengthAdjust="spacingAndGlyphs" text-anchor="start">H1</text><text x="72.1" y="11" fill="#3c3c3c" textLength="13.3" lengthAdjust="spacingAndGlyphs" text-anchor="start">H4</text><text x="101.3" y="11" fill="#3c3c3c" textLength="12.4" lengthAdjust="spacingAndGlyphs" text-anchor="start">D1</text><text x="128.7" y="11" fill="#3c3c3c" textLength="14.7" lengthAdjust="spacingAndGlyphs" text-anchor="start">W1</text><text x="155.3" y="11" fill="#3c3c3c" textLength="15.2" lengthAdjust="spacingAndGlyphs" text-anchor="start">MN</text></svg>
<div id="oc" class="abs">
 <div class="btn" style="left:0"><span>SELL</span></div>
 <div class="btn" style="left:168px"><span>BUY</span></div>
 <div id="sp"><div class="sb dn" style="left:0;border-right:1px solid #b0b0b0"></div><div class="sb up" style="left:88px;border-left:1px solid #b0b0b0"></div>
  <div class="abs" style="right:24px;top:3px;font-size:12px;line-height:15px;color:#000">3.00</div></div>
 <div class="pr" style="left:0;width:109px"><b style="left:20px;top:17.5px">6.44</b><i style="left:48px;top:-1px">10</i><u style="left:87.5px;top:3px">2</u></div>
 <div class="pr" style="left:111px;width:108px"><b style="left:19px;top:17.5px">6.44</b><i style="left:47.5px;top:-1px">30</i><u style="left:87.5px;top:3px">3</u></div>
 <div class="tp" style="left:51px;width:58px"></div><div class="tp" style="left:111px;width:57px"></div><div class="ul" style="left:4px;width:44px"></div><div class="ul" style="left:171px;width:44px"></div>
</div>
<div class="abs" style="left:0;top:681px;width:1205px;height:1px;background:#000"></div>
<div id="tabs" class="abs">
<em style="left:96px"></em><em style="left:200px"></em><em style="left:288px"></em><em style="left:573px"></em><em style="left:640px"></em><em style="left:716px"></em><em style="left:808px"></em><em style="left:900px"></em>
<div class="abs" style="left:392px;top:-1px;width:102px;height:18px;background:#fff;border:1px solid #000;border-top:0"></div>
<svg class="abs" style="left:0;top:0" width="1205" height="19" font-family="Liberation Sans, sans-serif" font-size="12px" fill="#6e6e78">
<text x="16" y="13.5" textLength="68.5" lengthAdjust="spacingAndGlyphs">EURUSD,H4</text>
<text x="106.5" y="13.5" textLength="83" lengthAdjust="spacingAndGlyphs">AUDUSD,Daily</text>
<text x="210.3" y="13.5" textLength="67.5" lengthAdjust="spacingAndGlyphs">USDCHF,H4</text>
<text x="299" y="13.5" textLength="81" lengthAdjust="spacingAndGlyphs">USDCAD,Daily</text>
<text x="402" y="13.5" textLength="83.5" lengthAdjust="spacingAndGlyphs" fill="#000">USDCNH,Daily</text>
<text x="508" y="13.5" textLength="53" lengthAdjust="spacingAndGlyphs">UKOil,H1</text>
<text x="582" y="13.5" textLength="45.5" lengthAdjust="spacingAndGlyphs">DJ30,H1</text>
<text x="651.7" y="13.5" textLength="52" lengthAdjust="spacingAndGlyphs">USDX,H1</text>
<text x="726.5" y="13.5" textLength="70" lengthAdjust="spacingAndGlyphs">XAUUSD,H4</text>
<text x="820" y="13.5" textLength="67.5" lengthAdjust="spacingAndGlyphs">GBPUSD,H1</text>
</svg>
<svg class="abs" style="left:1178px;top:3px" width="27" height="12"><path d="M6.2 1.6v7L2.8 5.1z M22.2 1.6v7l3.4-3.5z" fill="#8c8c8c"/></svg>
</div>
<div class="abs" style="left:0;top:679px;width:1205px;height:1px;background:#e8e8e8"></div>
<div class="abs" style="left:0;top:701px;width:1205px;height:1px;background:#fff"></div>
<div class="abs" style="left:0;top:702px;width:1205px;height:3px;background:#f0f0f0"></div>
<div class="abs" style="left:0;top:705px;width:1205px;height:1px;background:#989898"></div>
</body></html>
